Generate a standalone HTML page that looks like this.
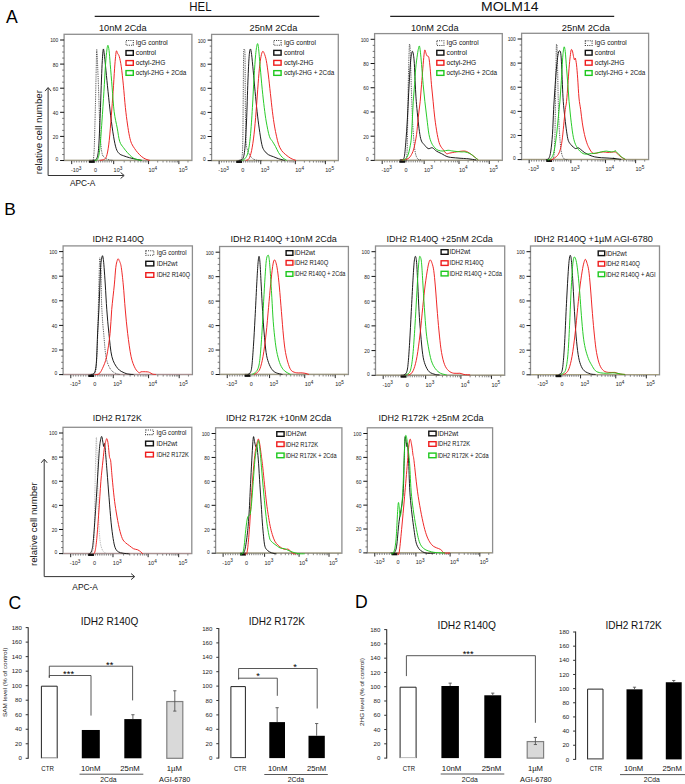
<!DOCTYPE html><html><head><meta charset="utf-8"><style>html,body{margin:0;padding:0;background:#fff;}svg{display:block;font-family:"Liberation Sans", sans-serif;}</style></head><body>
<svg width="685" height="784" viewBox="0 0 685 784">
<rect width="685" height="784" fill="#fff"/>
<text x="5.9" y="22.8" font-size="17.6" fill="#000" text-anchor="start">A</text>
<text x="4.2" y="214.9" font-size="17.3" fill="#000" text-anchor="start">B</text>
<text x="8.6" y="608.7" font-size="17.6" fill="#000" text-anchor="start">C</text>
<text x="354.9" y="608.4" font-size="17.6" fill="#000" text-anchor="start">D</text>
<text x="189.3" y="10.9" font-size="12.5" fill="#111" text-anchor="start" textLength="22.2" lengthAdjust="spacingAndGlyphs">HEL</text>
<line x1="94.7" y1="16.4" x2="319.3" y2="16.4" stroke="#222" stroke-width="1.3"/>
<text x="481" y="10.9" font-size="13" fill="#111" text-anchor="start" textLength="57.6" lengthAdjust="spacingAndGlyphs">MOLM14</text>
<line x1="390.2" y1="16.4" x2="614.2" y2="16.4" stroke="#222" stroke-width="1.3"/>
<text x="99" y="30.5" font-size="9.4" fill="#111" text-anchor="start" textLength="47.6" lengthAdjust="spacingAndGlyphs">10nM 2Cda</text>
<text x="249.5" y="30.5" font-size="9.4" fill="#111" text-anchor="start" textLength="47.8" lengthAdjust="spacingAndGlyphs">25nM 2Cda</text>
<text x="411" y="30.5" font-size="9.4" fill="#111" text-anchor="start" textLength="47.5" lengthAdjust="spacingAndGlyphs">10nM 2Cda</text>
<text x="561.8" y="30.5" font-size="9.4" fill="#111" text-anchor="start" textLength="48.1" lengthAdjust="spacingAndGlyphs">25nM 2Cda</text>
<text x="92.6" y="242" font-size="9.7" fill="#111" text-anchor="start" textLength="51.4" lengthAdjust="spacingAndGlyphs">IDH2 R140Q</text>
<text x="230.5" y="242.3" font-size="9.7" fill="#111" text-anchor="start" textLength="106.3" lengthAdjust="spacingAndGlyphs">IDH2 R140Q +10nM 2Cda</text>
<text x="386.5" y="242.3" font-size="9.7" fill="#111" text-anchor="start" textLength="106.4" lengthAdjust="spacingAndGlyphs">IDH2 R140Q +25nM 2Cda</text>
<text x="533.9" y="242.3" font-size="9.7" fill="#111" text-anchor="start" textLength="119" lengthAdjust="spacingAndGlyphs">IDH2 R140Q +1µM AGI-6780</text>
<text x="92.8" y="421.1" font-size="9.7" fill="#111" text-anchor="start" textLength="48.9" lengthAdjust="spacingAndGlyphs">IDH2 R172K</text>
<text x="226" y="421.1" font-size="9.7" fill="#111" text-anchor="start" textLength="105.4" lengthAdjust="spacingAndGlyphs">IDH2 R172K +10nM 2Cda</text>
<text x="378.5" y="421.1" font-size="9.7" fill="#111" text-anchor="start" textLength="105" lengthAdjust="spacingAndGlyphs">IDH2 R172K +25nM 2Cda</text>
<rect x="64.1" y="34.3" width="127.8" height="126.2" fill="none" stroke="#8e8e8e" stroke-width="1.3"/>
<line x1="60.1" y1="160.5" x2="64.1" y2="160.5" stroke="#111" stroke-width="1"/>
<text x="58.3" y="160.8" font-size="4.9" fill="#222" text-anchor="end">0</text>
<line x1="62.2" y1="154.47" x2="64.1" y2="154.47" stroke="#555" stroke-width="0.8"/>
<line x1="62.2" y1="148.45" x2="64.1" y2="148.45" stroke="#555" stroke-width="0.8"/>
<line x1="62.2" y1="142.43" x2="64.1" y2="142.43" stroke="#555" stroke-width="0.8"/>
<line x1="60.1" y1="136.4" x2="64.1" y2="136.4" stroke="#111" stroke-width="1"/>
<text x="58.3" y="138.8" font-size="4.9" fill="#222" text-anchor="end">20</text>
<line x1="62.2" y1="130.38" x2="64.1" y2="130.38" stroke="#555" stroke-width="0.8"/>
<line x1="62.2" y1="124.35" x2="64.1" y2="124.35" stroke="#555" stroke-width="0.8"/>
<line x1="62.2" y1="118.33" x2="64.1" y2="118.33" stroke="#555" stroke-width="0.8"/>
<line x1="60.1" y1="112.3" x2="64.1" y2="112.3" stroke="#111" stroke-width="1"/>
<text x="58.3" y="114.7" font-size="4.9" fill="#222" text-anchor="end">40</text>
<line x1="62.2" y1="106.28" x2="64.1" y2="106.28" stroke="#555" stroke-width="0.8"/>
<line x1="62.2" y1="100.25" x2="64.1" y2="100.25" stroke="#555" stroke-width="0.8"/>
<line x1="62.2" y1="94.22" x2="64.1" y2="94.22" stroke="#555" stroke-width="0.8"/>
<line x1="60.1" y1="88.2" x2="64.1" y2="88.2" stroke="#111" stroke-width="1"/>
<text x="58.3" y="90.6" font-size="4.9" fill="#222" text-anchor="end">60</text>
<line x1="62.2" y1="82.17" x2="64.1" y2="82.17" stroke="#555" stroke-width="0.8"/>
<line x1="62.2" y1="76.15" x2="64.1" y2="76.15" stroke="#555" stroke-width="0.8"/>
<line x1="62.2" y1="70.12" x2="64.1" y2="70.12" stroke="#555" stroke-width="0.8"/>
<line x1="60.1" y1="64.1" x2="64.1" y2="64.1" stroke="#111" stroke-width="1"/>
<text x="58.3" y="66.5" font-size="4.9" fill="#222" text-anchor="end">80</text>
<line x1="62.2" y1="58.08" x2="64.1" y2="58.08" stroke="#555" stroke-width="0.8"/>
<line x1="62.2" y1="52.05" x2="64.1" y2="52.05" stroke="#555" stroke-width="0.8"/>
<line x1="62.2" y1="46.03" x2="64.1" y2="46.03" stroke="#555" stroke-width="0.8"/>
<line x1="60.1" y1="40" x2="64.1" y2="40" stroke="#111" stroke-width="1"/>
<text x="58.3" y="42.4" font-size="4.9" fill="#222" text-anchor="end">100</text>
<line x1="74.18" y1="160.5" x2="74.18" y2="162.5" stroke="#555" stroke-width="0.7"/>
<line x1="76.66" y1="160.5" x2="76.66" y2="162.5" stroke="#555" stroke-width="0.7"/>
<line x1="79.14" y1="160.5" x2="79.14" y2="162.5" stroke="#555" stroke-width="0.7"/>
<line x1="81.62" y1="160.5" x2="81.62" y2="162.5" stroke="#555" stroke-width="0.7"/>
<line x1="84.09" y1="160.5" x2="84.09" y2="162.5" stroke="#555" stroke-width="0.7"/>
<line x1="86.57" y1="160.5" x2="86.57" y2="162.5" stroke="#555" stroke-width="0.7"/>
<line x1="89.05" y1="160.5" x2="89.05" y2="162.5" stroke="#555" stroke-width="0.7"/>
<line x1="91.53" y1="160.5" x2="91.53" y2="162.5" stroke="#555" stroke-width="0.7"/>
<line x1="96.19" y1="160.5" x2="96.19" y2="162.5" stroke="#555" stroke-width="0.7"/>
<line x1="98.38" y1="160.5" x2="98.38" y2="162.5" stroke="#555" stroke-width="0.7"/>
<line x1="100.57" y1="160.5" x2="100.57" y2="162.5" stroke="#555" stroke-width="0.7"/>
<line x1="102.75" y1="160.5" x2="102.75" y2="162.5" stroke="#555" stroke-width="0.7"/>
<line x1="104.94" y1="160.5" x2="104.94" y2="162.5" stroke="#555" stroke-width="0.7"/>
<line x1="107.13" y1="160.5" x2="107.13" y2="162.5" stroke="#555" stroke-width="0.7"/>
<line x1="109.31" y1="160.5" x2="109.31" y2="162.5" stroke="#555" stroke-width="0.7"/>
<line x1="111.5" y1="160.5" x2="111.5" y2="162.5" stroke="#555" stroke-width="0.7"/>
<line x1="124.19" y1="160.5" x2="124.19" y2="162.5" stroke="#555" stroke-width="0.7"/>
<line x1="130.33" y1="160.5" x2="130.33" y2="162.5" stroke="#555" stroke-width="0.7"/>
<line x1="134.69" y1="160.5" x2="134.69" y2="162.5" stroke="#555" stroke-width="0.7"/>
<line x1="138.07" y1="160.5" x2="138.07" y2="162.5" stroke="#555" stroke-width="0.7"/>
<line x1="140.84" y1="160.5" x2="140.84" y2="162.5" stroke="#555" stroke-width="0.7"/>
<line x1="143.17" y1="160.5" x2="143.17" y2="162.5" stroke="#555" stroke-width="0.7"/>
<line x1="145.19" y1="160.5" x2="145.19" y2="162.5" stroke="#555" stroke-width="0.7"/>
<line x1="146.98" y1="160.5" x2="146.98" y2="162.5" stroke="#555" stroke-width="0.7"/>
<line x1="157.69" y1="160.5" x2="157.69" y2="162.5" stroke="#555" stroke-width="0.7"/>
<line x1="163.03" y1="160.5" x2="163.03" y2="162.5" stroke="#555" stroke-width="0.7"/>
<line x1="166.81" y1="160.5" x2="166.81" y2="162.5" stroke="#555" stroke-width="0.7"/>
<line x1="169.75" y1="160.5" x2="169.75" y2="162.5" stroke="#555" stroke-width="0.7"/>
<line x1="172.14" y1="160.5" x2="172.14" y2="162.5" stroke="#555" stroke-width="0.7"/>
<line x1="174.17" y1="160.5" x2="174.17" y2="162.5" stroke="#555" stroke-width="0.7"/>
<line x1="175.93" y1="160.5" x2="175.93" y2="162.5" stroke="#555" stroke-width="0.7"/>
<line x1="177.48" y1="160.5" x2="177.48" y2="162.5" stroke="#555" stroke-width="0.7"/>
<line x1="187.98" y1="160.5" x2="187.98" y2="162.5" stroke="#555" stroke-width="0.7"/>
<line x1="71.7" y1="160.5" x2="71.7" y2="164.1" stroke="#111" stroke-width="0.9"/>
<line x1="113.69" y1="160.5" x2="113.69" y2="164.1" stroke="#111" stroke-width="0.9"/>
<line x1="148.58" y1="160.5" x2="148.58" y2="164.1" stroke="#111" stroke-width="0.9"/>
<line x1="178.86" y1="160.5" x2="178.86" y2="164.1" stroke="#111" stroke-width="0.9"/>
<text x="70.9" y="171.9" font-size="5.5" fill="#222" text-anchor="start">-10<tspan font-size="85%" dy="-2.4">3</tspan></text>
<text x="93.91" y="171.9" font-size="5.5" fill="#222" text-anchor="start">0</text>
<text x="113.59" y="171.9" font-size="5.5" fill="#222" text-anchor="start">10<tspan font-size="85%" dy="-2.4">3</tspan></text>
<text x="148.48" y="171.9" font-size="5.5" fill="#222" text-anchor="start">10<tspan font-size="85%" dy="-2.4">4</tspan></text>
<text x="178.76" y="171.9" font-size="5.5" fill="#222" text-anchor="start">10<tspan font-size="85%" dy="-2.4">5</tspan></text>
<rect x="89.01" y="159.9" width="5.8" height="3" fill="#111" stroke="none" stroke-width="1"/>
<line x1="64.9" y1="160.2" x2="191.1" y2="160.2" stroke="#a8a078" stroke-width="0.8"/>
<path d="M90.66,160.39 C91.17,159.78 92.97,164.14 93.72,156.71 C94.47,149.29 94.74,130.14 95.15,115.84 C95.56,101.53 95.9,81.94 96.17,70.87 C96.45,59.8 96.48,48.73 96.79,49.42 C97.09,50.1 97.67,66.96 98.01,74.96 C98.35,82.97 98.49,87.91 98.83,97.44 C99.17,106.98 99.55,122.99 100.06,132.19 C100.57,141.38 101.08,148.37 101.9,152.62 C102.71,156.88 103.77,156.54 104.96,157.73 C106.15,158.93 107.69,159.33 109.05,159.78 C110.41,160.22 112.46,160.29 113.14,160.39" fill="none" stroke="#333" stroke-width="0.9" stroke-dasharray="0.9,0.9"/>
<path d="M92.7,160.39 C93.31,160.19 95.42,160.8 96.38,159.16 C97.33,157.53 97.88,155.76 98.42,150.58 C98.97,145.4 99.31,135.25 99.65,128.1 C99.99,120.95 100.16,115.84 100.47,107.66 C100.77,99.49 101.18,86.88 101.49,79.05 C101.79,71.22 102,65.66 102.31,60.66 C102.61,55.65 102.95,49.69 103.33,49.01 C103.7,48.33 104.11,52.92 104.55,56.57 C105,60.21 105.41,65.08 105.98,70.87 C106.56,76.67 107.24,83.82 108.03,91.31 C108.81,98.81 109.76,108.34 110.68,115.84 C111.6,123.33 112.63,130.82 113.55,136.27 C114.47,141.72 115.25,145.64 116.2,148.54 C117.16,151.43 118.08,152.45 119.27,153.65 C120.46,154.84 121.65,155.01 123.36,155.69 C125.06,156.37 127.44,157.15 129.49,157.73 C131.53,158.31 133.57,158.72 135.62,159.16 C137.66,159.61 140.73,160.19 141.75,160.39" fill="none" stroke="#111111" stroke-width="0.95" stroke-linejoin="round"/>
<path d="M99.85,160.39 C100.64,160.19 103.36,160.12 104.55,159.16 C105.75,158.21 106.22,157.8 107.01,154.67 C107.79,151.53 108.54,146.83 109.25,140.36 C109.97,133.89 110.65,124.01 111.3,115.84 C111.94,107.66 112.59,99.15 113.14,91.31 C113.68,83.48 114.16,74.62 114.57,68.83 C114.98,63.04 115.28,59.57 115.59,56.57 C115.9,53.57 116.07,51.36 116.41,50.85 C116.75,50.34 117.16,52.55 117.63,53.5 C118.11,54.46 118.66,54.35 119.27,56.57 C119.88,58.78 120.63,62.02 121.31,66.79 C121.99,71.56 122.67,78.37 123.36,85.18 C124.04,91.99 124.72,101.19 125.4,107.66 C126.08,114.13 126.76,119.24 127.44,124.01 C128.12,128.78 128.81,133.04 129.49,136.27 C130.17,139.51 130.68,141.38 131.53,143.43 C132.38,145.47 133.57,147 134.6,148.54 C135.62,150.07 136.47,151.26 137.66,152.62 C138.85,153.99 140.39,155.62 141.75,156.71 C143.11,157.8 144.47,158.55 145.84,159.16 C147.2,159.78 149.24,160.19 149.92,160.39" fill="none" stroke="#ee1c1c" stroke-width="0.95" stroke-linejoin="round"/>
<path d="M94.74,160.39 C95.25,160.12 96.96,160.73 97.81,158.76 C98.66,156.78 99.17,154.67 99.85,148.54 C100.53,142.41 101.22,131.51 101.9,121.97 C102.58,112.43 103.36,100.51 103.94,91.31 C104.52,82.12 104.93,73.26 105.37,66.79 C105.81,60.32 106.19,56.06 106.6,52.48 C107.01,48.9 107.41,45.67 107.82,45.33 C108.23,44.99 108.64,47.2 109.05,50.44 C109.46,53.67 109.76,58.61 110.28,64.74 C110.79,70.87 111.47,79.39 112.12,87.22 C112.76,95.06 113.31,104.94 114.16,111.75 C115.01,118.56 116.3,123.16 117.22,128.1 C118.14,133.04 118.66,138.15 119.68,141.38 C120.7,144.62 122.06,145.64 123.36,147.51 C124.65,149.39 126.08,151.09 127.44,152.62 C128.81,154.16 130.17,155.62 131.53,156.71 C132.89,157.8 133.92,158.55 135.62,159.16 C137.32,159.78 140.73,160.19 141.75,160.39" fill="none" stroke="#1ec81e" stroke-width="0.95" stroke-linejoin="round"/>
<rect x="126" y="40.55" width="7.3" height="4.7" fill="#fff" stroke="#444" stroke-width="1.1" stroke-dasharray="1.1,1.1"/>
<text x="135.8" y="45.28" font-size="6.6" fill="#111" text-anchor="start" textLength="32" lengthAdjust="spacingAndGlyphs">IgG control</text>
<rect x="126" y="50.6" width="7.3" height="4.7" fill="#fff" stroke="#111111" stroke-width="1.4"/>
<text x="135.8" y="55.33" font-size="6.6" fill="#111" text-anchor="start" textLength="20.3" lengthAdjust="spacingAndGlyphs">control</text>
<rect x="126" y="60.6" width="7.3" height="4.7" fill="#fff" stroke="#ee1c1c" stroke-width="1.4"/>
<text x="135.8" y="65.33" font-size="6.6" fill="#111" text-anchor="start" textLength="29.5" lengthAdjust="spacingAndGlyphs">octyl-2HG</text>
<rect x="126" y="70.6" width="7.3" height="4.7" fill="#fff" stroke="#1ec81e" stroke-width="1.4"/>
<text x="135.8" y="75.33" font-size="6.6" fill="#111" text-anchor="start" textLength="50.6" lengthAdjust="spacingAndGlyphs">octyl-2HG + 2Cda</text>
<rect x="211.6" y="34.4" width="126.7" height="126.2" fill="none" stroke="#8e8e8e" stroke-width="1.3"/>
<line x1="207.6" y1="160.6" x2="211.6" y2="160.6" stroke="#111" stroke-width="1"/>
<text x="205.8" y="160.9" font-size="4.9" fill="#222" text-anchor="end">0</text>
<line x1="209.7" y1="154.57" x2="211.6" y2="154.57" stroke="#555" stroke-width="0.8"/>
<line x1="209.7" y1="148.55" x2="211.6" y2="148.55" stroke="#555" stroke-width="0.8"/>
<line x1="209.7" y1="142.53" x2="211.6" y2="142.53" stroke="#555" stroke-width="0.8"/>
<line x1="207.6" y1="136.5" x2="211.6" y2="136.5" stroke="#111" stroke-width="1"/>
<text x="205.8" y="138.9" font-size="4.9" fill="#222" text-anchor="end">20</text>
<line x1="209.7" y1="130.47" x2="211.6" y2="130.47" stroke="#555" stroke-width="0.8"/>
<line x1="209.7" y1="124.45" x2="211.6" y2="124.45" stroke="#555" stroke-width="0.8"/>
<line x1="209.7" y1="118.42" x2="211.6" y2="118.42" stroke="#555" stroke-width="0.8"/>
<line x1="207.6" y1="112.4" x2="211.6" y2="112.4" stroke="#111" stroke-width="1"/>
<text x="205.8" y="114.8" font-size="4.9" fill="#222" text-anchor="end">40</text>
<line x1="209.7" y1="106.38" x2="211.6" y2="106.38" stroke="#555" stroke-width="0.8"/>
<line x1="209.7" y1="100.35" x2="211.6" y2="100.35" stroke="#555" stroke-width="0.8"/>
<line x1="209.7" y1="94.32" x2="211.6" y2="94.32" stroke="#555" stroke-width="0.8"/>
<line x1="207.6" y1="88.3" x2="211.6" y2="88.3" stroke="#111" stroke-width="1"/>
<text x="205.8" y="90.7" font-size="4.9" fill="#222" text-anchor="end">60</text>
<line x1="209.7" y1="82.27" x2="211.6" y2="82.27" stroke="#555" stroke-width="0.8"/>
<line x1="209.7" y1="76.25" x2="211.6" y2="76.25" stroke="#555" stroke-width="0.8"/>
<line x1="209.7" y1="70.22" x2="211.6" y2="70.22" stroke="#555" stroke-width="0.8"/>
<line x1="207.6" y1="64.2" x2="211.6" y2="64.2" stroke="#111" stroke-width="1"/>
<text x="205.8" y="66.6" font-size="4.9" fill="#222" text-anchor="end">80</text>
<line x1="209.7" y1="58.17" x2="211.6" y2="58.17" stroke="#555" stroke-width="0.8"/>
<line x1="209.7" y1="52.15" x2="211.6" y2="52.15" stroke="#555" stroke-width="0.8"/>
<line x1="209.7" y1="46.12" x2="211.6" y2="46.12" stroke="#555" stroke-width="0.8"/>
<line x1="207.6" y1="40.1" x2="211.6" y2="40.1" stroke="#111" stroke-width="1"/>
<text x="205.8" y="42.5" font-size="4.9" fill="#222" text-anchor="end">100</text>
<line x1="221.6" y1="160.6" x2="221.6" y2="162.6" stroke="#555" stroke-width="0.7"/>
<line x1="224.05" y1="160.6" x2="224.05" y2="162.6" stroke="#555" stroke-width="0.7"/>
<line x1="226.51" y1="160.6" x2="226.51" y2="162.6" stroke="#555" stroke-width="0.7"/>
<line x1="228.96" y1="160.6" x2="228.96" y2="162.6" stroke="#555" stroke-width="0.7"/>
<line x1="231.42" y1="160.6" x2="231.42" y2="162.6" stroke="#555" stroke-width="0.7"/>
<line x1="233.88" y1="160.6" x2="233.88" y2="162.6" stroke="#555" stroke-width="0.7"/>
<line x1="236.33" y1="160.6" x2="236.33" y2="162.6" stroke="#555" stroke-width="0.7"/>
<line x1="238.79" y1="160.6" x2="238.79" y2="162.6" stroke="#555" stroke-width="0.7"/>
<line x1="243.42" y1="160.6" x2="243.42" y2="162.6" stroke="#555" stroke-width="0.7"/>
<line x1="245.58" y1="160.6" x2="245.58" y2="162.6" stroke="#555" stroke-width="0.7"/>
<line x1="247.75" y1="160.6" x2="247.75" y2="162.6" stroke="#555" stroke-width="0.7"/>
<line x1="249.92" y1="160.6" x2="249.92" y2="162.6" stroke="#555" stroke-width="0.7"/>
<line x1="252.09" y1="160.6" x2="252.09" y2="162.6" stroke="#555" stroke-width="0.7"/>
<line x1="254.26" y1="160.6" x2="254.26" y2="162.6" stroke="#555" stroke-width="0.7"/>
<line x1="256.42" y1="160.6" x2="256.42" y2="162.6" stroke="#555" stroke-width="0.7"/>
<line x1="258.59" y1="160.6" x2="258.59" y2="162.6" stroke="#555" stroke-width="0.7"/>
<line x1="271.17" y1="160.6" x2="271.17" y2="162.6" stroke="#555" stroke-width="0.7"/>
<line x1="277.26" y1="160.6" x2="277.26" y2="162.6" stroke="#555" stroke-width="0.7"/>
<line x1="281.58" y1="160.6" x2="281.58" y2="162.6" stroke="#555" stroke-width="0.7"/>
<line x1="284.94" y1="160.6" x2="284.94" y2="162.6" stroke="#555" stroke-width="0.7"/>
<line x1="287.68" y1="160.6" x2="287.68" y2="162.6" stroke="#555" stroke-width="0.7"/>
<line x1="289.99" y1="160.6" x2="289.99" y2="162.6" stroke="#555" stroke-width="0.7"/>
<line x1="292" y1="160.6" x2="292" y2="162.6" stroke="#555" stroke-width="0.7"/>
<line x1="293.77" y1="160.6" x2="293.77" y2="162.6" stroke="#555" stroke-width="0.7"/>
<line x1="304.39" y1="160.6" x2="304.39" y2="162.6" stroke="#555" stroke-width="0.7"/>
<line x1="309.68" y1="160.6" x2="309.68" y2="162.6" stroke="#555" stroke-width="0.7"/>
<line x1="313.43" y1="160.6" x2="313.43" y2="162.6" stroke="#555" stroke-width="0.7"/>
<line x1="316.34" y1="160.6" x2="316.34" y2="162.6" stroke="#555" stroke-width="0.7"/>
<line x1="318.71" y1="160.6" x2="318.71" y2="162.6" stroke="#555" stroke-width="0.7"/>
<line x1="320.73" y1="160.6" x2="320.73" y2="162.6" stroke="#555" stroke-width="0.7"/>
<line x1="322.47" y1="160.6" x2="322.47" y2="162.6" stroke="#555" stroke-width="0.7"/>
<line x1="324" y1="160.6" x2="324" y2="162.6" stroke="#555" stroke-width="0.7"/>
<line x1="334.42" y1="160.6" x2="334.42" y2="162.6" stroke="#555" stroke-width="0.7"/>
<line x1="219.14" y1="160.6" x2="219.14" y2="164.2" stroke="#111" stroke-width="0.9"/>
<line x1="260.76" y1="160.6" x2="260.76" y2="164.2" stroke="#111" stroke-width="0.9"/>
<line x1="295.35" y1="160.6" x2="295.35" y2="164.2" stroke="#111" stroke-width="0.9"/>
<line x1="325.38" y1="160.6" x2="325.38" y2="164.2" stroke="#111" stroke-width="0.9"/>
<text x="218.34" y="172" font-size="5.5" fill="#222" text-anchor="start">-10<tspan font-size="85%" dy="-2.4">3</tspan></text>
<text x="241.15" y="172" font-size="5.5" fill="#222" text-anchor="start">0</text>
<text x="260.66" y="172" font-size="5.5" fill="#222" text-anchor="start">10<tspan font-size="85%" dy="-2.4">3</tspan></text>
<text x="295.25" y="172" font-size="5.5" fill="#222" text-anchor="start">10<tspan font-size="85%" dy="-2.4">4</tspan></text>
<text x="325.28" y="172" font-size="5.5" fill="#222" text-anchor="start">10<tspan font-size="85%" dy="-2.4">5</tspan></text>
<rect x="236.25" y="160" width="5.8" height="3" fill="#111" stroke="none" stroke-width="1"/>
<line x1="212.4" y1="160.3" x2="337.5" y2="160.3" stroke="#a8a078" stroke-width="0.8"/>
<path d="M237.7,160.59 C238.08,160.58 239.29,161.09 240.01,160.49 C240.72,159.89 241.52,160.41 241.99,157 C242.46,153.58 242.61,149.49 242.81,139.99 C243.01,130.49 243.06,114.16 243.2,100 C243.33,85.83 243.44,63.34 243.61,54.99 C243.77,46.65 243.97,49.91 244.2,49.91 C244.43,49.91 244.81,46.65 245,54.99 C245.18,63.34 245.14,85.83 245.3,100 C245.47,114.16 245.63,131.66 246,139.99 C246.37,148.33 246.58,147.06 247.51,150.01 C248.44,152.96 250.08,155.99 251.6,157.69 C253.11,159.39 254.87,159.72 256.6,160.21 C258.34,160.69 261.12,160.53 262.02,160.59" fill="none" stroke="#333" stroke-width="0.9" stroke-dasharray="0.9,0.9"/>
<path d="M238.72,160.39 C239.4,160.12 241.79,160.73 242.81,158.76 C243.83,156.78 244.24,154.67 244.85,148.54 C245.47,142.41 245.98,133.21 246.49,121.97 C247,110.73 247.48,91.99 247.92,81.09 C248.36,70.19 248.74,61.92 249.14,56.57 C249.55,51.22 249.96,49.35 250.37,49.01 C250.78,48.67 251.12,50.88 251.6,54.52 C252.07,58.17 252.65,64.74 253.23,70.87 C253.81,77.01 254.42,84.5 255.07,91.31 C255.72,98.12 256.43,105.62 257.12,111.75 C257.8,117.88 258.38,122.65 259.16,128.1 C259.94,133.55 260.96,140.7 261.82,144.45 C262.67,148.2 263.18,148.88 264.27,150.58 C265.36,152.28 266.82,153.65 268.36,154.67 C269.89,155.69 271.76,156.03 273.47,156.71 C275.17,157.39 276.7,158.14 278.57,158.76 C280.45,159.37 283.68,160.12 284.71,160.39" fill="none" stroke="#111111" stroke-width="0.95" stroke-linejoin="round"/>
<path d="M245.87,160.39 C246.39,160.12 247.99,160.39 248.94,158.76 C249.89,157.12 250.75,154.67 251.6,150.58 C252.45,146.49 253.3,140.7 254.05,134.23 C254.8,127.76 255.48,119.24 256.09,111.75 C256.71,104.26 257.18,96.42 257.73,89.27 C258.27,82.12 258.82,74.28 259.36,68.83 C259.91,63.38 260.45,59.46 261,56.57 C261.54,53.67 262.09,51.97 262.63,51.46 C263.18,50.95 263.66,51.97 264.27,53.5 C264.88,55.04 265.63,57.08 266.31,60.66 C266.99,64.23 267.67,69.51 268.36,74.96 C269.04,80.41 269.72,87.22 270.4,93.36 C271.08,99.49 271.76,106.3 272.44,111.75 C273.12,117.2 273.81,121.97 274.49,126.06 C275.17,130.14 275.85,133.21 276.53,136.27 C277.21,139.34 277.72,142.06 278.57,144.45 C279.43,146.83 280.45,148.88 281.64,150.58 C282.83,152.28 284.19,153.37 285.73,154.67 C287.26,155.96 289.13,157.39 290.84,158.35 C292.54,159.3 295.09,160.05 295.95,160.39" fill="none" stroke="#ee1c1c" stroke-width="0.95" stroke-linejoin="round"/>
<path d="M241.79,160.39 C242.3,160.12 243.83,160.05 244.85,158.76 C245.87,157.46 247,156.37 247.92,152.62 C248.84,148.88 249.62,143.77 250.37,136.27 C251.12,128.78 251.8,117.54 252.41,107.66 C253.03,97.78 253.5,85.86 254.05,77.01 C254.59,68.15 255.14,60.04 255.68,54.52 C256.23,49.01 256.84,44.92 257.32,43.9 C257.8,42.88 258.07,44.58 258.55,48.39 C259.02,52.21 259.57,59.97 260.18,66.79 C260.79,73.6 261.54,82.46 262.22,89.27 C262.91,96.08 263.59,102.21 264.27,107.66 C264.95,113.11 265.46,117.2 266.31,121.97 C267.16,126.74 268.36,133.04 269.38,136.27 C270.4,139.51 271.42,139.68 272.44,141.38 C273.47,143.09 274.49,144.62 275.51,146.49 C276.53,148.37 277.38,150.75 278.57,152.62 C279.77,154.5 281.3,156.44 282.66,157.73 C284.02,159.03 286.07,159.95 286.75,160.39" fill="none" stroke="#1ec81e" stroke-width="0.95" stroke-linejoin="round"/>
<rect x="273.8" y="40.55" width="7.3" height="4.7" fill="#fff" stroke="#444" stroke-width="1.1" stroke-dasharray="1.1,1.1"/>
<text x="283.9" y="45.28" font-size="6.6" fill="#111" text-anchor="start" textLength="32" lengthAdjust="spacingAndGlyphs">IgG control</text>
<rect x="273.8" y="50.4" width="7.3" height="4.7" fill="#fff" stroke="#111111" stroke-width="1.4"/>
<text x="283.9" y="55.13" font-size="6.6" fill="#111" text-anchor="start" textLength="20.3" lengthAdjust="spacingAndGlyphs">control</text>
<rect x="273.8" y="60.45" width="7.3" height="4.7" fill="#fff" stroke="#ee1c1c" stroke-width="1.4"/>
<text x="283.9" y="65.18" font-size="6.6" fill="#111" text-anchor="start" textLength="29.5" lengthAdjust="spacingAndGlyphs">octyl-2HG</text>
<rect x="273.8" y="70.65" width="7.3" height="4.7" fill="#fff" stroke="#1ec81e" stroke-width="1.4"/>
<text x="283.9" y="75.38" font-size="6.6" fill="#111" text-anchor="start" textLength="50.3" lengthAdjust="spacingAndGlyphs">octyl-2HG + 2Cda</text>
<rect x="374.6" y="33.6" width="127.7" height="126.8" fill="none" stroke="#8e8e8e" stroke-width="1.3"/>
<line x1="370.6" y1="160.4" x2="374.6" y2="160.4" stroke="#111" stroke-width="1"/>
<text x="368.8" y="160.7" font-size="4.9" fill="#222" text-anchor="end">0</text>
<line x1="372.7" y1="154.34" x2="374.6" y2="154.34" stroke="#555" stroke-width="0.8"/>
<line x1="372.7" y1="148.29" x2="374.6" y2="148.29" stroke="#555" stroke-width="0.8"/>
<line x1="372.7" y1="142.24" x2="374.6" y2="142.24" stroke="#555" stroke-width="0.8"/>
<line x1="370.6" y1="136.18" x2="374.6" y2="136.18" stroke="#111" stroke-width="1"/>
<text x="368.8" y="138.58" font-size="4.9" fill="#222" text-anchor="end">20</text>
<line x1="372.7" y1="130.12" x2="374.6" y2="130.12" stroke="#555" stroke-width="0.8"/>
<line x1="372.7" y1="124.07" x2="374.6" y2="124.07" stroke="#555" stroke-width="0.8"/>
<line x1="372.7" y1="118.02" x2="374.6" y2="118.02" stroke="#555" stroke-width="0.8"/>
<line x1="370.6" y1="111.96" x2="374.6" y2="111.96" stroke="#111" stroke-width="1"/>
<text x="368.8" y="114.36" font-size="4.9" fill="#222" text-anchor="end">40</text>
<line x1="372.7" y1="105.91" x2="374.6" y2="105.91" stroke="#555" stroke-width="0.8"/>
<line x1="372.7" y1="99.85" x2="374.6" y2="99.85" stroke="#555" stroke-width="0.8"/>
<line x1="372.7" y1="93.8" x2="374.6" y2="93.8" stroke="#555" stroke-width="0.8"/>
<line x1="370.6" y1="87.74" x2="374.6" y2="87.74" stroke="#111" stroke-width="1"/>
<text x="368.8" y="90.14" font-size="4.9" fill="#222" text-anchor="end">60</text>
<line x1="372.7" y1="81.69" x2="374.6" y2="81.69" stroke="#555" stroke-width="0.8"/>
<line x1="372.7" y1="75.63" x2="374.6" y2="75.63" stroke="#555" stroke-width="0.8"/>
<line x1="372.7" y1="69.58" x2="374.6" y2="69.58" stroke="#555" stroke-width="0.8"/>
<line x1="370.6" y1="63.52" x2="374.6" y2="63.52" stroke="#111" stroke-width="1"/>
<text x="368.8" y="65.92" font-size="4.9" fill="#222" text-anchor="end">80</text>
<line x1="372.7" y1="57.47" x2="374.6" y2="57.47" stroke="#555" stroke-width="0.8"/>
<line x1="372.7" y1="51.41" x2="374.6" y2="51.41" stroke="#555" stroke-width="0.8"/>
<line x1="372.7" y1="45.36" x2="374.6" y2="45.36" stroke="#555" stroke-width="0.8"/>
<line x1="370.6" y1="39.3" x2="374.6" y2="39.3" stroke="#111" stroke-width="1"/>
<text x="368.8" y="41.7" font-size="4.9" fill="#222" text-anchor="end">100</text>
<line x1="384.67" y1="160.4" x2="384.67" y2="162.4" stroke="#555" stroke-width="0.7"/>
<line x1="387.15" y1="160.4" x2="387.15" y2="162.4" stroke="#555" stroke-width="0.7"/>
<line x1="389.63" y1="160.4" x2="389.63" y2="162.4" stroke="#555" stroke-width="0.7"/>
<line x1="392.1" y1="160.4" x2="392.1" y2="162.4" stroke="#555" stroke-width="0.7"/>
<line x1="394.58" y1="160.4" x2="394.58" y2="162.4" stroke="#555" stroke-width="0.7"/>
<line x1="397.05" y1="160.4" x2="397.05" y2="162.4" stroke="#555" stroke-width="0.7"/>
<line x1="399.53" y1="160.4" x2="399.53" y2="162.4" stroke="#555" stroke-width="0.7"/>
<line x1="402.01" y1="160.4" x2="402.01" y2="162.4" stroke="#555" stroke-width="0.7"/>
<line x1="406.67" y1="160.4" x2="406.67" y2="162.4" stroke="#555" stroke-width="0.7"/>
<line x1="408.85" y1="160.4" x2="408.85" y2="162.4" stroke="#555" stroke-width="0.7"/>
<line x1="411.04" y1="160.4" x2="411.04" y2="162.4" stroke="#555" stroke-width="0.7"/>
<line x1="413.22" y1="160.4" x2="413.22" y2="162.4" stroke="#555" stroke-width="0.7"/>
<line x1="415.41" y1="160.4" x2="415.41" y2="162.4" stroke="#555" stroke-width="0.7"/>
<line x1="417.59" y1="160.4" x2="417.59" y2="162.4" stroke="#555" stroke-width="0.7"/>
<line x1="419.78" y1="160.4" x2="419.78" y2="162.4" stroke="#555" stroke-width="0.7"/>
<line x1="421.96" y1="160.4" x2="421.96" y2="162.4" stroke="#555" stroke-width="0.7"/>
<line x1="434.64" y1="160.4" x2="434.64" y2="162.4" stroke="#555" stroke-width="0.7"/>
<line x1="440.78" y1="160.4" x2="440.78" y2="162.4" stroke="#555" stroke-width="0.7"/>
<line x1="445.14" y1="160.4" x2="445.14" y2="162.4" stroke="#555" stroke-width="0.7"/>
<line x1="448.52" y1="160.4" x2="448.52" y2="162.4" stroke="#555" stroke-width="0.7"/>
<line x1="451.28" y1="160.4" x2="451.28" y2="162.4" stroke="#555" stroke-width="0.7"/>
<line x1="453.61" y1="160.4" x2="453.61" y2="162.4" stroke="#555" stroke-width="0.7"/>
<line x1="455.63" y1="160.4" x2="455.63" y2="162.4" stroke="#555" stroke-width="0.7"/>
<line x1="457.41" y1="160.4" x2="457.41" y2="162.4" stroke="#555" stroke-width="0.7"/>
<line x1="468.12" y1="160.4" x2="468.12" y2="162.4" stroke="#555" stroke-width="0.7"/>
<line x1="473.45" y1="160.4" x2="473.45" y2="162.4" stroke="#555" stroke-width="0.7"/>
<line x1="477.23" y1="160.4" x2="477.23" y2="162.4" stroke="#555" stroke-width="0.7"/>
<line x1="480.16" y1="160.4" x2="480.16" y2="162.4" stroke="#555" stroke-width="0.7"/>
<line x1="482.56" y1="160.4" x2="482.56" y2="162.4" stroke="#555" stroke-width="0.7"/>
<line x1="484.59" y1="160.4" x2="484.59" y2="162.4" stroke="#555" stroke-width="0.7"/>
<line x1="486.34" y1="160.4" x2="486.34" y2="162.4" stroke="#555" stroke-width="0.7"/>
<line x1="487.89" y1="160.4" x2="487.89" y2="162.4" stroke="#555" stroke-width="0.7"/>
<line x1="498.39" y1="160.4" x2="498.39" y2="162.4" stroke="#555" stroke-width="0.7"/>
<line x1="382.2" y1="160.4" x2="382.2" y2="164" stroke="#111" stroke-width="0.9"/>
<line x1="424.15" y1="160.4" x2="424.15" y2="164" stroke="#111" stroke-width="0.9"/>
<line x1="459.01" y1="160.4" x2="459.01" y2="164" stroke="#111" stroke-width="0.9"/>
<line x1="489.27" y1="160.4" x2="489.27" y2="164" stroke="#111" stroke-width="0.9"/>
<text x="381.4" y="171.8" font-size="5.5" fill="#222" text-anchor="start">-10<tspan font-size="85%" dy="-2.4">3</tspan></text>
<text x="404.38" y="171.8" font-size="5.5" fill="#222" text-anchor="start">0</text>
<text x="424.05" y="171.8" font-size="5.5" fill="#222" text-anchor="start">10<tspan font-size="85%" dy="-2.4">3</tspan></text>
<text x="458.91" y="171.8" font-size="5.5" fill="#222" text-anchor="start">10<tspan font-size="85%" dy="-2.4">4</tspan></text>
<text x="489.17" y="171.8" font-size="5.5" fill="#222" text-anchor="start">10<tspan font-size="85%" dy="-2.4">5</tspan></text>
<rect x="399.48" y="159.8" width="5.8" height="3" fill="#111" stroke="none" stroke-width="1"/>
<line x1="375.4" y1="160.1" x2="501.5" y2="160.1" stroke="#a8a078" stroke-width="0.8"/>
<path d="M404.11,159.72 C404.53,159.66 406.05,163.57 406.6,159.37 C407.16,155.17 407.17,146.93 407.44,134.5 C407.72,122.06 407.98,98.57 408.26,84.75 C408.53,70.93 408.88,58.35 409.1,51.58 C409.32,44.81 409.4,44.12 409.59,44.12 C409.78,44.12 409.97,44.81 410.24,51.58 C410.52,58.35 410.88,73.7 411.24,84.75 C411.6,95.81 411.94,108.25 412.41,117.92 C412.88,127.6 413.51,136.71 414.06,142.79 C414.61,148.87 415.03,151.64 415.72,154.4 C416.41,157.16 417.24,158.48 418.21,159.37 C419.18,160.25 420.97,159.66 421.52,159.72" fill="none" stroke="#333" stroke-width="0.9" stroke-dasharray="0.9,0.9"/>
<path d="M399.96,159.72 C400.24,159.72 400.95,160.05 401.64,159.72 C402.33,159.38 403.42,160.53 404.11,157.71 C404.8,154.89 405.21,149.43 405.77,142.79 C406.32,136.16 406.89,127.6 407.44,117.92 C408,108.25 408.54,94.43 409.1,84.75 C409.65,75.08 410.2,65.46 410.75,59.88 C411.3,54.3 411.86,51.25 412.41,51.25 C412.96,51.25 413.65,55.68 414.06,59.88 C414.48,64.08 414.62,70.93 414.9,76.45 C415.18,81.98 415.44,88.35 415.72,93.05 C415.99,97.75 416.14,99.96 416.56,104.66 C416.97,109.35 417.66,116.26 418.21,121.23 C418.76,126.21 419.32,131.18 419.87,134.5 C420.42,137.81 420.83,139.48 421.52,141.14 C422.21,142.8 422.91,143.21 424.02,144.45 C425.12,145.69 426.78,148.04 428.16,148.6 C429.55,149.15 430.93,147.36 432.31,147.78 C433.69,148.2 434.92,150.12 436.44,151.09 C437.96,152.06 439.49,152.62 441.43,153.58 C443.36,154.55 445.29,156.15 448.05,156.9 C450.81,157.64 455.18,157.78 458,158.06 C460.82,158.34 463.29,158.44 464.97,158.55 C466.66,158.67 466.22,158.52 468.1,158.76 C469.98,158.99 474.91,159.78 476.27,159.98" fill="none" stroke="#111111" stroke-width="0.95" stroke-linejoin="round"/>
<path d="M401.64,159.72 C401.91,159.72 402.19,159.91 403.29,159.72 C404.4,159.52 406.88,159.44 408.26,158.55 C409.64,157.67 410.6,156.2 411.57,154.4 C412.54,152.61 413.23,151.1 414.06,147.78 C414.89,144.46 415.86,139.47 416.56,134.5 C417.25,129.52 417.61,123.45 418.21,117.92 C418.82,112.4 419.64,106.88 420.19,101.35 C420.75,95.82 421.08,90.28 421.52,84.75 C421.97,79.22 422.44,73.15 422.85,68.18 C423.27,63.2 423.68,57.95 424.02,54.91 C424.35,51.87 424.52,50.2 424.85,49.93 C425.18,49.65 425.67,52.29 426,53.26 C426.33,54.23 426.48,55.23 426.84,55.73 C427.2,56.23 427.81,55.83 428.16,56.24 C428.52,56.66 428.65,56.23 428.98,58.22 C429.31,60.21 429.73,63.76 430.15,68.18 C430.56,72.6 430.98,79.22 431.48,84.75 C431.97,90.28 432.58,95.82 433.13,101.35 C433.68,106.88 434.09,112.4 434.79,117.92 C435.48,123.45 436.45,130.07 437.28,134.5 C438.11,138.92 438.81,141.96 439.77,144.45 C440.74,146.94 441.98,147.91 443.08,149.44 C444.19,150.96 445.29,152.98 446.39,153.58 C447.5,154.19 448.07,153.35 449.73,153.07 C451.38,152.79 453.81,152.24 456.35,151.91 C458.89,151.58 462.67,150.8 464.97,151.09 C467.27,151.38 468.6,152.71 470.14,153.65 C471.69,154.58 472.87,155.66 474.23,156.71 C475.59,157.77 477.64,159.44 478.32,159.98" fill="none" stroke="#ee1c1c" stroke-width="0.95" stroke-linejoin="round"/>
<path d="M402.45,159.72 C402.87,159.66 403.98,160.25 404.95,159.37 C405.92,158.48 407.29,157.16 408.26,154.4 C409.23,151.64 410.2,146.11 410.75,142.79 C411.3,139.48 411.29,138.64 411.57,134.5 C411.85,130.35 412.13,123.45 412.41,117.92 C412.69,112.4 412.89,106.88 413.25,101.35 C413.6,95.82 414.14,90.28 414.55,84.75 C414.97,79.22 415.25,73.15 415.72,68.18 C416.19,63.2 416.9,58.23 417.37,54.91 C417.84,51.6 418.18,49.71 418.54,48.27 C418.9,46.83 419.18,45.18 419.54,46.29 C419.9,47.4 420.32,51.27 420.71,54.91 C421.09,58.56 421.44,63.2 421.85,68.18 C422.26,73.15 422.68,79.22 423.18,84.75 C423.68,90.28 424.24,95.82 424.85,101.35 C425.46,106.88 426.15,112.4 426.84,117.92 C427.52,123.45 428.21,130.35 428.98,134.5 C429.76,138.64 430.51,140.58 431.48,142.79 C432.44,145.01 433.68,146.54 434.79,147.78 C435.89,149.02 436.73,149.7 438.12,150.25 C439.5,150.81 441.43,151.09 443.08,151.09 C444.74,151.09 446.39,150.25 448.05,150.25 C449.71,150.25 450.82,150.82 453.04,151.09 C455.25,151.37 459.35,151.77 461.33,151.91 C463.32,152.05 463.5,151.62 464.97,151.91 C466.44,152.2 468.6,152.85 470.14,153.65 C471.69,154.45 472.87,155.66 474.23,156.71 C475.59,157.77 477.64,159.44 478.32,159.98" fill="none" stroke="#1ec81e" stroke-width="0.95" stroke-linejoin="round"/>
<rect x="436.8" y="40.75" width="7.1" height="4.7" fill="#fff" stroke="#444" stroke-width="1.1" stroke-dasharray="1.1,1.1"/>
<text x="446.6" y="45.48" font-size="6.6" fill="#111" text-anchor="start" textLength="32" lengthAdjust="spacingAndGlyphs">IgG control</text>
<rect x="436.8" y="50.4" width="7.1" height="4.7" fill="#fff" stroke="#111111" stroke-width="1.4"/>
<text x="446.6" y="55.13" font-size="6.6" fill="#111" text-anchor="start" textLength="20.3" lengthAdjust="spacingAndGlyphs">control</text>
<rect x="436.8" y="60.45" width="7.1" height="4.7" fill="#fff" stroke="#ee1c1c" stroke-width="1.4"/>
<text x="446.6" y="65.18" font-size="6.6" fill="#111" text-anchor="start" textLength="29.5" lengthAdjust="spacingAndGlyphs">octyl-2HG</text>
<rect x="436.8" y="70.65" width="7.1" height="4.7" fill="#fff" stroke="#1ec81e" stroke-width="1.4"/>
<text x="446.6" y="75.38" font-size="6.6" fill="#111" text-anchor="start" textLength="50.5" lengthAdjust="spacingAndGlyphs">octyl-2HG + 2Cda</text>
<rect x="521.6" y="33.3" width="127" height="126.3" fill="none" stroke="#8e8e8e" stroke-width="1.3"/>
<line x1="517.6" y1="159.6" x2="521.6" y2="159.6" stroke="#111" stroke-width="1"/>
<text x="515.8" y="159.9" font-size="4.9" fill="#222" text-anchor="end">0</text>
<line x1="519.7" y1="153.57" x2="521.6" y2="153.57" stroke="#555" stroke-width="0.8"/>
<line x1="519.7" y1="147.54" x2="521.6" y2="147.54" stroke="#555" stroke-width="0.8"/>
<line x1="519.7" y1="141.51" x2="521.6" y2="141.51" stroke="#555" stroke-width="0.8"/>
<line x1="517.6" y1="135.48" x2="521.6" y2="135.48" stroke="#111" stroke-width="1"/>
<text x="515.8" y="137.88" font-size="4.9" fill="#222" text-anchor="end">20</text>
<line x1="519.7" y1="129.45" x2="521.6" y2="129.45" stroke="#555" stroke-width="0.8"/>
<line x1="519.7" y1="123.42" x2="521.6" y2="123.42" stroke="#555" stroke-width="0.8"/>
<line x1="519.7" y1="117.39" x2="521.6" y2="117.39" stroke="#555" stroke-width="0.8"/>
<line x1="517.6" y1="111.36" x2="521.6" y2="111.36" stroke="#111" stroke-width="1"/>
<text x="515.8" y="113.76" font-size="4.9" fill="#222" text-anchor="end">40</text>
<line x1="519.7" y1="105.33" x2="521.6" y2="105.33" stroke="#555" stroke-width="0.8"/>
<line x1="519.7" y1="99.3" x2="521.6" y2="99.3" stroke="#555" stroke-width="0.8"/>
<line x1="519.7" y1="93.27" x2="521.6" y2="93.27" stroke="#555" stroke-width="0.8"/>
<line x1="517.6" y1="87.24" x2="521.6" y2="87.24" stroke="#111" stroke-width="1"/>
<text x="515.8" y="89.64" font-size="4.9" fill="#222" text-anchor="end">60</text>
<line x1="519.7" y1="81.21" x2="521.6" y2="81.21" stroke="#555" stroke-width="0.8"/>
<line x1="519.7" y1="75.18" x2="521.6" y2="75.18" stroke="#555" stroke-width="0.8"/>
<line x1="519.7" y1="69.15" x2="521.6" y2="69.15" stroke="#555" stroke-width="0.8"/>
<line x1="517.6" y1="63.12" x2="521.6" y2="63.12" stroke="#111" stroke-width="1"/>
<text x="515.8" y="65.52" font-size="4.9" fill="#222" text-anchor="end">80</text>
<line x1="519.7" y1="57.09" x2="521.6" y2="57.09" stroke="#555" stroke-width="0.8"/>
<line x1="519.7" y1="51.06" x2="521.6" y2="51.06" stroke="#555" stroke-width="0.8"/>
<line x1="519.7" y1="45.03" x2="521.6" y2="45.03" stroke="#555" stroke-width="0.8"/>
<line x1="517.6" y1="39" x2="521.6" y2="39" stroke="#111" stroke-width="1"/>
<text x="515.8" y="41.4" font-size="4.9" fill="#222" text-anchor="end">100</text>
<line x1="531.62" y1="159.6" x2="531.62" y2="161.6" stroke="#555" stroke-width="0.7"/>
<line x1="534.08" y1="159.6" x2="534.08" y2="161.6" stroke="#555" stroke-width="0.7"/>
<line x1="536.54" y1="159.6" x2="536.54" y2="161.6" stroke="#555" stroke-width="0.7"/>
<line x1="539.01" y1="159.6" x2="539.01" y2="161.6" stroke="#555" stroke-width="0.7"/>
<line x1="541.47" y1="159.6" x2="541.47" y2="161.6" stroke="#555" stroke-width="0.7"/>
<line x1="543.93" y1="159.6" x2="543.93" y2="161.6" stroke="#555" stroke-width="0.7"/>
<line x1="546.39" y1="159.6" x2="546.39" y2="161.6" stroke="#555" stroke-width="0.7"/>
<line x1="548.86" y1="159.6" x2="548.86" y2="161.6" stroke="#555" stroke-width="0.7"/>
<line x1="553.49" y1="159.6" x2="553.49" y2="161.6" stroke="#555" stroke-width="0.7"/>
<line x1="555.66" y1="159.6" x2="555.66" y2="161.6" stroke="#555" stroke-width="0.7"/>
<line x1="557.84" y1="159.6" x2="557.84" y2="161.6" stroke="#555" stroke-width="0.7"/>
<line x1="560.01" y1="159.6" x2="560.01" y2="161.6" stroke="#555" stroke-width="0.7"/>
<line x1="562.18" y1="159.6" x2="562.18" y2="161.6" stroke="#555" stroke-width="0.7"/>
<line x1="564.36" y1="159.6" x2="564.36" y2="161.6" stroke="#555" stroke-width="0.7"/>
<line x1="566.53" y1="159.6" x2="566.53" y2="161.6" stroke="#555" stroke-width="0.7"/>
<line x1="568.7" y1="159.6" x2="568.7" y2="161.6" stroke="#555" stroke-width="0.7"/>
<line x1="581.31" y1="159.6" x2="581.31" y2="161.6" stroke="#555" stroke-width="0.7"/>
<line x1="587.42" y1="159.6" x2="587.42" y2="161.6" stroke="#555" stroke-width="0.7"/>
<line x1="591.75" y1="159.6" x2="591.75" y2="161.6" stroke="#555" stroke-width="0.7"/>
<line x1="595.11" y1="159.6" x2="595.11" y2="161.6" stroke="#555" stroke-width="0.7"/>
<line x1="597.86" y1="159.6" x2="597.86" y2="161.6" stroke="#555" stroke-width="0.7"/>
<line x1="600.18" y1="159.6" x2="600.18" y2="161.6" stroke="#555" stroke-width="0.7"/>
<line x1="602.19" y1="159.6" x2="602.19" y2="161.6" stroke="#555" stroke-width="0.7"/>
<line x1="603.96" y1="159.6" x2="603.96" y2="161.6" stroke="#555" stroke-width="0.7"/>
<line x1="614.61" y1="159.6" x2="614.61" y2="161.6" stroke="#555" stroke-width="0.7"/>
<line x1="619.91" y1="159.6" x2="619.91" y2="161.6" stroke="#555" stroke-width="0.7"/>
<line x1="623.67" y1="159.6" x2="623.67" y2="161.6" stroke="#555" stroke-width="0.7"/>
<line x1="626.59" y1="159.6" x2="626.59" y2="161.6" stroke="#555" stroke-width="0.7"/>
<line x1="628.97" y1="159.6" x2="628.97" y2="161.6" stroke="#555" stroke-width="0.7"/>
<line x1="630.98" y1="159.6" x2="630.98" y2="161.6" stroke="#555" stroke-width="0.7"/>
<line x1="632.73" y1="159.6" x2="632.73" y2="161.6" stroke="#555" stroke-width="0.7"/>
<line x1="634.27" y1="159.6" x2="634.27" y2="161.6" stroke="#555" stroke-width="0.7"/>
<line x1="644.71" y1="159.6" x2="644.71" y2="161.6" stroke="#555" stroke-width="0.7"/>
<line x1="529.16" y1="159.6" x2="529.16" y2="163.2" stroke="#111" stroke-width="0.9"/>
<line x1="570.88" y1="159.6" x2="570.88" y2="163.2" stroke="#111" stroke-width="0.9"/>
<line x1="605.55" y1="159.6" x2="605.55" y2="163.2" stroke="#111" stroke-width="0.9"/>
<line x1="635.65" y1="159.6" x2="635.65" y2="163.2" stroke="#111" stroke-width="0.9"/>
<text x="528.36" y="171" font-size="5.5" fill="#222" text-anchor="start">-10<tspan font-size="85%" dy="-2.4">3</tspan></text>
<text x="551.22" y="171" font-size="5.5" fill="#222" text-anchor="start">0</text>
<text x="570.78" y="171" font-size="5.5" fill="#222" text-anchor="start">10<tspan font-size="85%" dy="-2.4">3</tspan></text>
<text x="605.45" y="171" font-size="5.5" fill="#222" text-anchor="start">10<tspan font-size="85%" dy="-2.4">4</tspan></text>
<text x="635.55" y="171" font-size="5.5" fill="#222" text-anchor="start">10<tspan font-size="85%" dy="-2.4">5</tspan></text>
<rect x="546.32" y="159" width="5.8" height="3" fill="#111" stroke="none" stroke-width="1"/>
<line x1="522.4" y1="159.3" x2="647.8" y2="159.3" stroke="#a8a078" stroke-width="0.8"/>
<path d="M552.46,159.72 C552.74,158.83 553.7,158.61 554.12,154.4 C554.53,150.2 554.73,143.34 554.96,134.5 C555.18,125.65 555.28,112.4 555.45,101.35 C555.61,90.29 555.82,77.02 555.96,68.18 C556.1,59.33 556.17,52.28 556.28,48.27 C556.39,44.26 556.47,44.12 556.61,44.12 C556.75,44.12 556.93,44.26 557.1,48.27 C557.27,52.28 557.42,59.33 557.61,68.18 C557.81,77.02 558.02,91.67 558.27,101.35 C558.51,111.02 558.69,118.48 559.1,126.22 C559.52,133.96 560.21,142.81 560.76,147.78 C561.31,152.75 561.72,154.13 562.41,156.06 C563.11,157.99 563.94,158.76 564.91,159.37 C565.88,159.98 567.67,159.66 568.22,159.72" fill="none" stroke="#333" stroke-width="0.9" stroke-dasharray="0.9,0.9"/>
<path d="M545.84,159.72 C546.12,159.66 546.94,159.7 547.5,159.37 C548.05,159.03 548.6,159.09 549.15,157.71 C549.7,156.33 550.25,154.96 550.81,151.09 C551.36,147.22 551.99,141.41 552.46,134.5 C552.93,127.58 553.27,116.53 553.63,109.62 C553.99,102.72 554.27,98.58 554.63,93.05 C554.99,87.52 555.39,81.43 555.77,76.45 C556.16,71.48 556.52,67.06 556.94,63.19 C557.35,59.32 557.82,55.33 558.27,53.26 C558.71,51.19 559.18,50.76 559.59,50.76 C560.01,50.76 560.43,50.91 560.76,53.26 C561.09,55.61 561.3,59.62 561.58,64.87 C561.85,70.12 562.14,78.67 562.41,84.75 C562.69,90.83 562.84,95.82 563.25,101.35 C563.67,106.88 564.36,112.95 564.91,117.92 C565.46,122.89 566.01,127.46 566.56,131.19 C567.12,134.92 567.53,138.09 568.22,140.3 C568.91,142.51 569.88,143.34 570.71,144.45 C571.54,145.56 572.36,146.25 573.19,146.94 C574.01,147.63 574.85,148.46 575.68,148.6 C576.51,148.74 577.34,147.64 578.17,147.78 C579,147.92 579.56,148.61 580.67,149.44 C581.77,150.26 583.27,151.78 584.79,152.75 C586.31,153.71 588.12,154.55 589.78,155.24 C591.44,155.93 592.81,156.48 594.75,156.9 C596.68,157.31 599.18,157.52 601.39,157.71 C603.6,157.91 605.75,157.92 608.01,158.06 C610.28,158.2 614.13,158.5 614.98,158.55 C615.83,158.6 612.05,158.21 613.1,158.35 C614.15,158.48 619.91,159.2 621.27,159.37" fill="none" stroke="#111111" stroke-width="0.95" stroke-linejoin="round"/>
<path d="M549.97,159.72 C550.25,159.72 550.81,160.05 551.64,159.72 C552.48,159.38 553.85,158.6 554.96,157.71 C556.06,156.83 557.3,156.06 558.27,154.4 C559.23,152.75 560.07,150.54 560.76,147.78 C561.45,145.02 561.86,142.25 562.41,137.83 C562.97,133.4 563.6,125.93 564.07,121.23 C564.54,116.53 564.82,112.94 565.24,109.62 C565.65,106.31 566.12,105.49 566.56,101.35 C567.01,97.2 567.48,90.28 567.89,84.75 C568.31,79.22 568.67,72.87 569.06,68.18 C569.44,63.48 569.84,59.61 570.2,56.57 C570.56,53.53 570.84,50.89 571.2,49.93 C571.56,48.96 571.98,49.66 572.37,50.76 C572.76,51.87 573.17,55.05 573.53,56.57 C573.89,58.09 574.21,59.6 574.51,59.88 C574.82,60.16 575.02,57.39 575.35,58.22 C575.69,59.06 576.13,61.55 576.52,64.87 C576.9,68.18 577.25,72.61 577.66,78.13 C578.07,83.65 578.49,92.77 578.99,98.02 C579.49,103.26 580.11,105.48 580.67,109.62 C581.22,113.77 581.69,118.74 582.32,122.89 C582.95,127.03 583.72,131.18 584.47,134.5 C585.21,137.81 586.05,140.58 586.8,142.79 C587.54,145.01 588.17,146.26 588.94,147.78 C589.72,149.3 590.6,150.94 591.44,151.91 C592.27,152.88 592.83,153.45 593.93,153.58 C595.03,153.72 596.54,153.03 598.06,152.75 C599.58,152.47 601.39,151.96 603.04,151.91 C604.7,151.85 606.02,152.42 608.01,152.42 C610,152.42 613.62,151.87 614.98,151.91 C616.34,151.94 615.12,151.76 616.16,152.62 C617.21,153.49 619.74,156 621.27,157.12 C622.81,158.24 624.68,158.99 625.36,159.37" fill="none" stroke="#ee1c1c" stroke-width="0.95" stroke-linejoin="round"/>
<path d="M547.5,159.72 C547.77,159.72 548.46,160.05 549.15,159.72 C549.84,159.38 550.82,159.15 551.64,157.71 C552.47,156.28 553.29,154.96 554.12,151.09 C554.94,147.22 555.92,140.02 556.61,134.5 C557.3,128.97 557.71,123.45 558.27,117.92 C558.82,112.4 559.45,106.88 559.92,101.35 C560.39,95.82 560.73,90.28 561.09,84.75 C561.45,79.22 561.78,73.15 562.09,68.18 C562.39,63.2 562.57,58.45 562.91,54.91 C563.24,51.37 563.68,47.5 564.07,46.94 C564.46,46.39 564.82,48.04 565.24,51.58 C565.65,55.12 566.12,62.65 566.56,68.18 C567.01,73.71 567.48,79.22 567.89,84.75 C568.31,90.28 568.59,95.82 569.06,101.35 C569.53,106.88 570.08,112.4 570.71,117.92 C571.35,123.45 572.17,130.35 572.86,134.5 C573.55,138.64 574.12,140.58 574.86,142.79 C575.61,145.01 576.51,146.4 577.33,147.78 C578.16,149.16 578.86,150.12 579.83,151.09 C580.79,152.06 582.03,153.09 583.14,153.58 C584.24,154.08 585.07,154.08 586.45,154.08 C587.83,154.08 589.78,153.75 591.44,153.58 C593.09,153.42 594.74,153.35 596.4,153.07 C598.06,152.79 599.73,152.24 601.39,151.91 C603.05,151.58 604.7,151.09 606.35,151.09 C608.01,151.09 609.9,151.91 611.34,151.91 C612.78,151.91 614.35,151.31 614.98,151.09 C615.61,150.87 614.78,150.32 615.14,150.58 C615.51,150.84 616.16,151.6 617.19,152.62 C618.21,153.65 619.91,155.59 621.27,156.71 C622.64,157.84 624.68,158.93 625.36,159.37" fill="none" stroke="#1ec81e" stroke-width="0.95" stroke-linejoin="round"/>
<rect x="585.3" y="40.75" width="6.8" height="4.7" fill="#fff" stroke="#444" stroke-width="1.1" stroke-dasharray="1.1,1.1"/>
<text x="594.8" y="45.48" font-size="6.6" fill="#111" text-anchor="start" textLength="32" lengthAdjust="spacingAndGlyphs">IgG control</text>
<rect x="585.3" y="50.4" width="6.8" height="4.7" fill="#fff" stroke="#111111" stroke-width="1.4"/>
<text x="594.8" y="55.13" font-size="6.6" fill="#111" text-anchor="start" textLength="20.3" lengthAdjust="spacingAndGlyphs">control</text>
<rect x="585.3" y="60.45" width="6.8" height="4.7" fill="#fff" stroke="#ee1c1c" stroke-width="1.4"/>
<text x="594.8" y="65.18" font-size="6.6" fill="#111" text-anchor="start" textLength="29.5" lengthAdjust="spacingAndGlyphs">octyl-2HG</text>
<rect x="585.3" y="70.65" width="6.8" height="4.7" fill="#fff" stroke="#1ec81e" stroke-width="1.4"/>
<text x="594.8" y="75.38" font-size="6.6" fill="#111" text-anchor="start" textLength="50.5" lengthAdjust="spacingAndGlyphs">octyl-2HG + 2Cda</text>
<rect x="63.1" y="245.9" width="129.3" height="128.7" fill="none" stroke="#8e8e8e" stroke-width="1.3"/>
<line x1="59.1" y1="374.6" x2="63.1" y2="374.6" stroke="#111" stroke-width="1"/>
<text x="57.3" y="374.9" font-size="4.9" fill="#222" text-anchor="end">0</text>
<line x1="61.2" y1="368.45" x2="63.1" y2="368.45" stroke="#555" stroke-width="0.8"/>
<line x1="61.2" y1="362.3" x2="63.1" y2="362.3" stroke="#555" stroke-width="0.8"/>
<line x1="61.2" y1="356.15" x2="63.1" y2="356.15" stroke="#555" stroke-width="0.8"/>
<line x1="59.1" y1="350" x2="63.1" y2="350" stroke="#111" stroke-width="1"/>
<text x="57.3" y="352.4" font-size="4.9" fill="#222" text-anchor="end">20</text>
<line x1="61.2" y1="343.85" x2="63.1" y2="343.85" stroke="#555" stroke-width="0.8"/>
<line x1="61.2" y1="337.7" x2="63.1" y2="337.7" stroke="#555" stroke-width="0.8"/>
<line x1="61.2" y1="331.55" x2="63.1" y2="331.55" stroke="#555" stroke-width="0.8"/>
<line x1="59.1" y1="325.4" x2="63.1" y2="325.4" stroke="#111" stroke-width="1"/>
<text x="57.3" y="327.8" font-size="4.9" fill="#222" text-anchor="end">40</text>
<line x1="61.2" y1="319.25" x2="63.1" y2="319.25" stroke="#555" stroke-width="0.8"/>
<line x1="61.2" y1="313.1" x2="63.1" y2="313.1" stroke="#555" stroke-width="0.8"/>
<line x1="61.2" y1="306.95" x2="63.1" y2="306.95" stroke="#555" stroke-width="0.8"/>
<line x1="59.1" y1="300.8" x2="63.1" y2="300.8" stroke="#111" stroke-width="1"/>
<text x="57.3" y="303.2" font-size="4.9" fill="#222" text-anchor="end">60</text>
<line x1="61.2" y1="294.65" x2="63.1" y2="294.65" stroke="#555" stroke-width="0.8"/>
<line x1="61.2" y1="288.5" x2="63.1" y2="288.5" stroke="#555" stroke-width="0.8"/>
<line x1="61.2" y1="282.35" x2="63.1" y2="282.35" stroke="#555" stroke-width="0.8"/>
<line x1="59.1" y1="276.2" x2="63.1" y2="276.2" stroke="#111" stroke-width="1"/>
<text x="57.3" y="278.6" font-size="4.9" fill="#222" text-anchor="end">80</text>
<line x1="61.2" y1="270.05" x2="63.1" y2="270.05" stroke="#555" stroke-width="0.8"/>
<line x1="61.2" y1="263.9" x2="63.1" y2="263.9" stroke="#555" stroke-width="0.8"/>
<line x1="61.2" y1="257.75" x2="63.1" y2="257.75" stroke="#555" stroke-width="0.8"/>
<line x1="59.1" y1="251.6" x2="63.1" y2="251.6" stroke="#111" stroke-width="1"/>
<text x="57.3" y="254" font-size="4.9" fill="#222" text-anchor="end">100</text>
<line x1="73.3" y1="374.6" x2="73.3" y2="376.6" stroke="#555" stroke-width="0.7"/>
<line x1="75.81" y1="374.6" x2="75.81" y2="376.6" stroke="#555" stroke-width="0.7"/>
<line x1="78.31" y1="374.6" x2="78.31" y2="376.6" stroke="#555" stroke-width="0.7"/>
<line x1="80.82" y1="374.6" x2="80.82" y2="376.6" stroke="#555" stroke-width="0.7"/>
<line x1="83.33" y1="374.6" x2="83.33" y2="376.6" stroke="#555" stroke-width="0.7"/>
<line x1="85.84" y1="374.6" x2="85.84" y2="376.6" stroke="#555" stroke-width="0.7"/>
<line x1="88.34" y1="374.6" x2="88.34" y2="376.6" stroke="#555" stroke-width="0.7"/>
<line x1="90.85" y1="374.6" x2="90.85" y2="376.6" stroke="#555" stroke-width="0.7"/>
<line x1="95.57" y1="374.6" x2="95.57" y2="376.6" stroke="#555" stroke-width="0.7"/>
<line x1="97.78" y1="374.6" x2="97.78" y2="376.6" stroke="#555" stroke-width="0.7"/>
<line x1="99.99" y1="374.6" x2="99.99" y2="376.6" stroke="#555" stroke-width="0.7"/>
<line x1="102.21" y1="374.6" x2="102.21" y2="376.6" stroke="#555" stroke-width="0.7"/>
<line x1="104.42" y1="374.6" x2="104.42" y2="376.6" stroke="#555" stroke-width="0.7"/>
<line x1="106.63" y1="374.6" x2="106.63" y2="376.6" stroke="#555" stroke-width="0.7"/>
<line x1="108.84" y1="374.6" x2="108.84" y2="376.6" stroke="#555" stroke-width="0.7"/>
<line x1="111.06" y1="374.6" x2="111.06" y2="376.6" stroke="#555" stroke-width="0.7"/>
<line x1="123.89" y1="374.6" x2="123.89" y2="376.6" stroke="#555" stroke-width="0.7"/>
<line x1="130.11" y1="374.6" x2="130.11" y2="376.6" stroke="#555" stroke-width="0.7"/>
<line x1="134.52" y1="374.6" x2="134.52" y2="376.6" stroke="#555" stroke-width="0.7"/>
<line x1="137.94" y1="374.6" x2="137.94" y2="376.6" stroke="#555" stroke-width="0.7"/>
<line x1="140.74" y1="374.6" x2="140.74" y2="376.6" stroke="#555" stroke-width="0.7"/>
<line x1="143.1" y1="374.6" x2="143.1" y2="376.6" stroke="#555" stroke-width="0.7"/>
<line x1="145.15" y1="374.6" x2="145.15" y2="376.6" stroke="#555" stroke-width="0.7"/>
<line x1="146.95" y1="374.6" x2="146.95" y2="376.6" stroke="#555" stroke-width="0.7"/>
<line x1="157.79" y1="374.6" x2="157.79" y2="376.6" stroke="#555" stroke-width="0.7"/>
<line x1="163.19" y1="374.6" x2="163.19" y2="376.6" stroke="#555" stroke-width="0.7"/>
<line x1="167.02" y1="374.6" x2="167.02" y2="376.6" stroke="#555" stroke-width="0.7"/>
<line x1="169.99" y1="374.6" x2="169.99" y2="376.6" stroke="#555" stroke-width="0.7"/>
<line x1="172.41" y1="374.6" x2="172.41" y2="376.6" stroke="#555" stroke-width="0.7"/>
<line x1="174.46" y1="374.6" x2="174.46" y2="376.6" stroke="#555" stroke-width="0.7"/>
<line x1="176.24" y1="374.6" x2="176.24" y2="376.6" stroke="#555" stroke-width="0.7"/>
<line x1="177.81" y1="374.6" x2="177.81" y2="376.6" stroke="#555" stroke-width="0.7"/>
<line x1="188.44" y1="374.6" x2="188.44" y2="376.6" stroke="#555" stroke-width="0.7"/>
<line x1="70.79" y1="374.6" x2="70.79" y2="378.2" stroke="#111" stroke-width="0.9"/>
<line x1="113.27" y1="374.6" x2="113.27" y2="378.2" stroke="#111" stroke-width="0.9"/>
<line x1="148.57" y1="374.6" x2="148.57" y2="378.2" stroke="#111" stroke-width="0.9"/>
<line x1="179.21" y1="374.6" x2="179.21" y2="378.2" stroke="#111" stroke-width="0.9"/>
<text x="69.99" y="386" font-size="5.5" fill="#222" text-anchor="start">-10<tspan font-size="85%" dy="-2.4">3</tspan></text>
<text x="93.26" y="386" font-size="5.5" fill="#222" text-anchor="start">0</text>
<text x="113.17" y="386" font-size="5.5" fill="#222" text-anchor="start">10<tspan font-size="85%" dy="-2.4">3</tspan></text>
<text x="148.47" y="386" font-size="5.5" fill="#222" text-anchor="start">10<tspan font-size="85%" dy="-2.4">4</tspan></text>
<text x="179.11" y="386" font-size="5.5" fill="#222" text-anchor="start">10<tspan font-size="85%" dy="-2.4">5</tspan></text>
<rect x="88.36" y="374" width="5.8" height="3" fill="#111" stroke="none" stroke-width="1"/>
<line x1="63.9" y1="374.3" x2="191.6" y2="374.3" stroke="#b89090" stroke-width="0.8"/>
<path d="M93.52,374.48 C93.93,373.56 95.31,374.55 95.97,368.96 C96.63,363.37 97.08,352.3 97.5,340.96 C97.92,329.62 98.17,313.92 98.5,300.9 C98.84,287.89 99.26,269.87 99.51,262.89 C99.75,255.91 99.75,257.81 100,259.01 C100.24,260.2 100.75,263.2 101,270.04 C101.25,276.89 101.24,291.77 101.49,300.09 C101.74,308.4 102.14,314.36 102.51,319.91 C102.88,325.46 103.12,327.27 103.7,333.4 C104.27,339.53 104.93,350.87 105.98,356.7 C107.03,362.52 108.49,365.62 109.99,368.35 C111.49,371.07 113.31,372.03 114.98,373.05 C116.65,374.07 119.17,374.24 120,374.48" fill="none" stroke="#333" stroke-width="0.9" stroke-dasharray="0.9,0.9"/>
<path d="M90.66,374.48 C91.18,374.33 92.96,374.61 93.8,373.6 C94.64,372.59 95.22,371.22 95.7,368.41 C96.19,365.59 96.39,362.53 96.71,356.7 C97.02,350.86 97.24,341.22 97.6,333.4 C97.97,325.58 98.51,317.86 98.89,309.79 C99.27,301.73 99.61,292.05 99.89,285 C100.18,277.96 100.34,271.77 100.61,267.51 C100.87,263.24 101.17,261.38 101.49,259.42 C101.8,257.45 102.2,255.7 102.51,255.7 C102.82,255.7 103.06,257.45 103.33,259.42 C103.59,261.38 103.77,263.24 104.1,267.51 C104.43,271.77 104.86,277.96 105.31,285 C105.76,292.05 106.2,301.73 106.8,309.79 C107.4,317.86 108.06,325.58 108.91,333.4 C109.76,341.22 110.45,350.86 111.91,356.7 C113.38,362.53 115.56,365.69 117.69,368.41 C119.83,371.13 122.65,372.03 124.7,373.01 C126.76,373.98 128.52,374.03 130,374.27 C131.48,374.52 132.98,374.44 133.57,374.48" fill="none" stroke="#111111" stroke-width="0.95" stroke-linejoin="round"/>
<path d="M94.74,374.48 C95.45,374.37 97.7,374.83 98.99,373.8 C100.29,372.78 101.24,371.2 102.51,368.35 C103.78,365.5 105.34,362.52 106.6,356.7 C107.86,350.87 109.22,341.25 110.07,333.4 C110.92,325.55 111,317.66 111.71,309.59 C112.41,301.52 113.62,291.98 114.3,284.96 C114.98,277.95 115.31,271.6 115.79,267.51 C116.28,263.42 116.81,261.89 117.22,260.44 C117.64,258.99 117.97,258.73 118.31,258.8 C118.65,258.87 118.99,260.27 119.27,260.85 C119.55,261.43 119.66,261.17 120,262.28 C120.34,263.39 120.76,263.73 121.31,267.51 C121.86,271.29 122.63,277.88 123.29,284.96 C123.96,292.04 124.57,301.93 125.3,310 C126.02,318.07 126.68,325.62 127.65,333.4 C128.62,341.18 129.86,350.87 131.12,356.7 C132.38,362.52 133.85,365.66 135.21,368.35 C136.57,371.04 138.34,372.26 139.3,372.84 C140.25,373.42 139.65,371.99 140.93,371.82 C142.22,371.65 145.57,371.72 147,371.82 C148.43,371.92 148.57,372.04 149.52,372.43 C150.47,372.83 151.61,373.83 152.7,374.17 C153.79,374.51 155.5,374.43 156.06,374.48" fill="none" stroke="#ee1c1c" stroke-width="0.95" stroke-linejoin="round"/>
<rect x="145.8" y="250.7" width="8" height="4.6" fill="#fff" stroke="#444" stroke-width="1.1" stroke-dasharray="1.1,1.1"/>
<text x="156.8" y="255.38" font-size="6.6" fill="#111" text-anchor="start" textLength="29.7" lengthAdjust="spacingAndGlyphs">IgG control</text>
<rect x="145.8" y="261.3" width="8" height="4.6" fill="#fff" stroke="#111111" stroke-width="1.4"/>
<text x="156.8" y="265.98" font-size="6.6" fill="#111" text-anchor="start" textLength="20.6" lengthAdjust="spacingAndGlyphs">IDH2wt</text>
<rect x="145.8" y="272.7" width="8" height="4.6" fill="#fff" stroke="#ee1c1c" stroke-width="1.4"/>
<text x="156.8" y="277.38" font-size="6.6" fill="#111" text-anchor="start" textLength="33.3" lengthAdjust="spacingAndGlyphs">IDH2 R140Q</text>
<rect x="219.6" y="246.5" width="128.8" height="128" fill="none" stroke="#8e8e8e" stroke-width="1.3"/>
<line x1="215.6" y1="374.5" x2="219.6" y2="374.5" stroke="#111" stroke-width="1"/>
<text x="213.8" y="374.8" font-size="4.9" fill="#222" text-anchor="end">0</text>
<line x1="217.7" y1="368.38" x2="219.6" y2="368.38" stroke="#555" stroke-width="0.8"/>
<line x1="217.7" y1="362.27" x2="219.6" y2="362.27" stroke="#555" stroke-width="0.8"/>
<line x1="217.7" y1="356.15" x2="219.6" y2="356.15" stroke="#555" stroke-width="0.8"/>
<line x1="215.6" y1="350.04" x2="219.6" y2="350.04" stroke="#111" stroke-width="1"/>
<text x="213.8" y="352.44" font-size="4.9" fill="#222" text-anchor="end">20</text>
<line x1="217.7" y1="343.93" x2="219.6" y2="343.93" stroke="#555" stroke-width="0.8"/>
<line x1="217.7" y1="337.81" x2="219.6" y2="337.81" stroke="#555" stroke-width="0.8"/>
<line x1="217.7" y1="331.69" x2="219.6" y2="331.69" stroke="#555" stroke-width="0.8"/>
<line x1="215.6" y1="325.58" x2="219.6" y2="325.58" stroke="#111" stroke-width="1"/>
<text x="213.8" y="327.98" font-size="4.9" fill="#222" text-anchor="end">40</text>
<line x1="217.7" y1="319.46" x2="219.6" y2="319.46" stroke="#555" stroke-width="0.8"/>
<line x1="217.7" y1="313.35" x2="219.6" y2="313.35" stroke="#555" stroke-width="0.8"/>
<line x1="217.7" y1="307.24" x2="219.6" y2="307.24" stroke="#555" stroke-width="0.8"/>
<line x1="215.6" y1="301.12" x2="219.6" y2="301.12" stroke="#111" stroke-width="1"/>
<text x="213.8" y="303.52" font-size="4.9" fill="#222" text-anchor="end">60</text>
<line x1="217.7" y1="295" x2="219.6" y2="295" stroke="#555" stroke-width="0.8"/>
<line x1="217.7" y1="288.89" x2="219.6" y2="288.89" stroke="#555" stroke-width="0.8"/>
<line x1="217.7" y1="282.77" x2="219.6" y2="282.77" stroke="#555" stroke-width="0.8"/>
<line x1="215.6" y1="276.66" x2="219.6" y2="276.66" stroke="#111" stroke-width="1"/>
<text x="213.8" y="279.06" font-size="4.9" fill="#222" text-anchor="end">80</text>
<line x1="217.7" y1="270.54" x2="219.6" y2="270.54" stroke="#555" stroke-width="0.8"/>
<line x1="217.7" y1="264.43" x2="219.6" y2="264.43" stroke="#555" stroke-width="0.8"/>
<line x1="217.7" y1="258.31" x2="219.6" y2="258.31" stroke="#555" stroke-width="0.8"/>
<line x1="215.6" y1="252.2" x2="219.6" y2="252.2" stroke="#111" stroke-width="1"/>
<text x="213.8" y="254.6" font-size="4.9" fill="#222" text-anchor="end">100</text>
<line x1="229.76" y1="374.5" x2="229.76" y2="376.5" stroke="#555" stroke-width="0.7"/>
<line x1="232.26" y1="374.5" x2="232.26" y2="376.5" stroke="#555" stroke-width="0.7"/>
<line x1="234.76" y1="374.5" x2="234.76" y2="376.5" stroke="#555" stroke-width="0.7"/>
<line x1="237.25" y1="374.5" x2="237.25" y2="376.5" stroke="#555" stroke-width="0.7"/>
<line x1="239.75" y1="374.5" x2="239.75" y2="376.5" stroke="#555" stroke-width="0.7"/>
<line x1="242.25" y1="374.5" x2="242.25" y2="376.5" stroke="#555" stroke-width="0.7"/>
<line x1="244.74" y1="374.5" x2="244.74" y2="376.5" stroke="#555" stroke-width="0.7"/>
<line x1="247.24" y1="374.5" x2="247.24" y2="376.5" stroke="#555" stroke-width="0.7"/>
<line x1="251.94" y1="374.5" x2="251.94" y2="376.5" stroke="#555" stroke-width="0.7"/>
<line x1="254.15" y1="374.5" x2="254.15" y2="376.5" stroke="#555" stroke-width="0.7"/>
<line x1="256.35" y1="374.5" x2="256.35" y2="376.5" stroke="#555" stroke-width="0.7"/>
<line x1="258.55" y1="374.5" x2="258.55" y2="376.5" stroke="#555" stroke-width="0.7"/>
<line x1="260.76" y1="374.5" x2="260.76" y2="376.5" stroke="#555" stroke-width="0.7"/>
<line x1="262.96" y1="374.5" x2="262.96" y2="376.5" stroke="#555" stroke-width="0.7"/>
<line x1="265.17" y1="374.5" x2="265.17" y2="376.5" stroke="#555" stroke-width="0.7"/>
<line x1="267.37" y1="374.5" x2="267.37" y2="376.5" stroke="#555" stroke-width="0.7"/>
<line x1="280.16" y1="374.5" x2="280.16" y2="376.5" stroke="#555" stroke-width="0.7"/>
<line x1="286.35" y1="374.5" x2="286.35" y2="376.5" stroke="#555" stroke-width="0.7"/>
<line x1="290.74" y1="374.5" x2="290.74" y2="376.5" stroke="#555" stroke-width="0.7"/>
<line x1="294.15" y1="374.5" x2="294.15" y2="376.5" stroke="#555" stroke-width="0.7"/>
<line x1="296.94" y1="374.5" x2="296.94" y2="376.5" stroke="#555" stroke-width="0.7"/>
<line x1="299.29" y1="374.5" x2="299.29" y2="376.5" stroke="#555" stroke-width="0.7"/>
<line x1="301.33" y1="374.5" x2="301.33" y2="376.5" stroke="#555" stroke-width="0.7"/>
<line x1="303.13" y1="374.5" x2="303.13" y2="376.5" stroke="#555" stroke-width="0.7"/>
<line x1="313.93" y1="374.5" x2="313.93" y2="376.5" stroke="#555" stroke-width="0.7"/>
<line x1="319.3" y1="374.5" x2="319.3" y2="376.5" stroke="#555" stroke-width="0.7"/>
<line x1="323.12" y1="374.5" x2="323.12" y2="376.5" stroke="#555" stroke-width="0.7"/>
<line x1="326.07" y1="374.5" x2="326.07" y2="376.5" stroke="#555" stroke-width="0.7"/>
<line x1="328.49" y1="374.5" x2="328.49" y2="376.5" stroke="#555" stroke-width="0.7"/>
<line x1="330.53" y1="374.5" x2="330.53" y2="376.5" stroke="#555" stroke-width="0.7"/>
<line x1="332.3" y1="374.5" x2="332.3" y2="376.5" stroke="#555" stroke-width="0.7"/>
<line x1="333.87" y1="374.5" x2="333.87" y2="376.5" stroke="#555" stroke-width="0.7"/>
<line x1="344.45" y1="374.5" x2="344.45" y2="376.5" stroke="#555" stroke-width="0.7"/>
<line x1="227.26" y1="374.5" x2="227.26" y2="378.1" stroke="#111" stroke-width="0.9"/>
<line x1="269.57" y1="374.5" x2="269.57" y2="378.1" stroke="#111" stroke-width="0.9"/>
<line x1="304.74" y1="374.5" x2="304.74" y2="378.1" stroke="#111" stroke-width="0.9"/>
<line x1="335.26" y1="374.5" x2="335.26" y2="378.1" stroke="#111" stroke-width="0.9"/>
<text x="226.46" y="385.9" font-size="5.5" fill="#222" text-anchor="start">-10<tspan font-size="85%" dy="-2.4">3</tspan></text>
<text x="249.64" y="385.9" font-size="5.5" fill="#222" text-anchor="start">0</text>
<text x="269.47" y="385.9" font-size="5.5" fill="#222" text-anchor="start">10<tspan font-size="85%" dy="-2.4">3</tspan></text>
<text x="304.64" y="385.9" font-size="5.5" fill="#222" text-anchor="start">10<tspan font-size="85%" dy="-2.4">4</tspan></text>
<text x="335.16" y="385.9" font-size="5.5" fill="#222" text-anchor="start">10<tspan font-size="85%" dy="-2.4">5</tspan></text>
<rect x="244.74" y="373.9" width="5.8" height="3" fill="#111" stroke="none" stroke-width="1"/>
<line x1="220.4" y1="374.2" x2="347.6" y2="374.2" stroke="#a8a078" stroke-width="0.8"/>
<path d="M247.7,374.48 C248.11,374.21 249.47,374.14 250.15,372.84 C250.83,371.55 251.24,371.14 251.79,366.71 C252.33,362.28 252.88,354.45 253.42,346.27 C253.97,338.1 254.51,327.88 255.06,317.66 C255.6,307.44 256.22,293.82 256.69,284.96 C257.17,276.11 257.54,269.29 257.92,264.52 C258.29,259.76 258.6,256.69 258.94,256.35 C259.28,256.01 259.59,257.71 259.96,262.48 C260.34,267.25 260.75,276.79 261.19,284.96 C261.63,293.14 262.14,303.7 262.62,311.53 C263.1,319.37 263.47,325.16 264.05,331.97 C264.63,338.78 265.34,347.3 266.09,352.41 C266.84,357.51 267.52,359.73 268.55,362.62 C269.57,365.52 270.93,368.07 272.22,369.78 C273.52,371.48 274.61,372.06 276.31,372.84 C278.02,373.63 281.42,374.21 282.44,374.48" fill="none" stroke="#111111" stroke-width="0.95" stroke-linejoin="round"/>
<path d="M253.83,374.48 C254.34,374.21 255.87,373.8 256.9,372.84 C257.92,371.89 258.94,371.48 259.96,368.76 C260.98,366.03 262.01,362.28 263.03,356.49 C264.05,350.7 265.17,342.19 266.09,334.01 C267.01,325.84 267.8,315.62 268.55,307.44 C269.3,299.27 269.91,291.77 270.59,284.96 C271.27,278.15 272.02,270.72 272.63,266.57 C273.25,262.41 273.72,260.71 274.27,260.03 C274.81,259.35 275.36,260.71 275.9,262.48 C276.45,264.25 276.96,266.57 277.54,270.66 C278.12,274.74 278.73,280.19 279.38,287.01 C280.02,293.82 280.74,303.36 281.42,311.53 C282.1,319.71 282.78,329.24 283.47,336.06 C284.15,342.87 284.66,347.64 285.51,352.41 C286.36,357.17 287.55,361.6 288.57,364.67 C289.6,367.73 290.28,369.44 291.64,370.8 C293,372.16 295.22,372.5 296.75,372.84 C298.28,373.18 299.47,372.77 300.84,372.84 C302.2,372.91 303.56,372.98 304.92,373.25 C306.29,373.52 308.33,374.27 309.01,374.48" fill="none" stroke="#ee1c1c" stroke-width="0.95" stroke-linejoin="round"/>
<path d="M251.79,374.48 C252.3,374.21 253.83,373.8 254.85,372.84 C255.87,371.89 257.07,371.14 257.92,368.76 C258.77,366.37 259.28,364.67 259.96,358.54 C260.64,352.41 261.39,341.51 262.01,331.97 C262.62,322.43 263.13,310.51 263.64,301.31 C264.15,292.12 264.63,283.6 265.07,276.79 C265.51,269.97 265.85,264.01 266.3,260.44 C266.74,256.86 267.29,255.84 267.73,255.33 C268.17,254.82 268.55,254.82 268.95,257.37 C269.36,259.93 269.7,264.01 270.18,270.66 C270.66,277.3 271.3,288.71 271.82,297.22 C272.33,305.74 272.67,314.26 273.25,321.75 C273.83,329.24 274.61,336.74 275.29,342.19 C275.97,347.64 276.48,350.7 277.33,354.45 C278.19,358.2 279.21,361.94 280.4,364.67 C281.59,367.39 282.78,369.16 284.49,370.8 C286.19,372.43 289.6,373.86 290.62,374.48" fill="none" stroke="#1ec81e" stroke-width="0.95" stroke-linejoin="round"/>
<rect x="286.1" y="250.7" width="6.8" height="4.6" fill="#fff" stroke="#111111" stroke-width="1.4"/>
<text x="294.3" y="255.38" font-size="6.6" fill="#111" text-anchor="start" textLength="20.8" lengthAdjust="spacingAndGlyphs">IDH2wt</text>
<rect x="286.1" y="260.5" width="6.8" height="4.6" fill="#fff" stroke="#ee1c1c" stroke-width="1.4"/>
<text x="294.3" y="265.18" font-size="6.6" fill="#111" text-anchor="start" textLength="34" lengthAdjust="spacingAndGlyphs">IDH2 R140Q</text>
<rect x="286.1" y="271.7" width="6.8" height="4.6" fill="#fff" stroke="#1ec81e" stroke-width="1.4"/>
<text x="294.3" y="276.38" font-size="6.6" fill="#111" text-anchor="start" textLength="51" lengthAdjust="spacingAndGlyphs">IDH2 R140Q + 2Cda</text>
<rect x="375.5" y="246" width="129.2" height="129.3" fill="none" stroke="#8e8e8e" stroke-width="1.3"/>
<line x1="371.5" y1="375.3" x2="375.5" y2="375.3" stroke="#111" stroke-width="1"/>
<text x="369.7" y="375.6" font-size="4.9" fill="#222" text-anchor="end">0</text>
<line x1="373.6" y1="369.12" x2="375.5" y2="369.12" stroke="#555" stroke-width="0.8"/>
<line x1="373.6" y1="362.94" x2="375.5" y2="362.94" stroke="#555" stroke-width="0.8"/>
<line x1="373.6" y1="356.76" x2="375.5" y2="356.76" stroke="#555" stroke-width="0.8"/>
<line x1="371.5" y1="350.58" x2="375.5" y2="350.58" stroke="#111" stroke-width="1"/>
<text x="369.7" y="352.98" font-size="4.9" fill="#222" text-anchor="end">20</text>
<line x1="373.6" y1="344.4" x2="375.5" y2="344.4" stroke="#555" stroke-width="0.8"/>
<line x1="373.6" y1="338.22" x2="375.5" y2="338.22" stroke="#555" stroke-width="0.8"/>
<line x1="373.6" y1="332.04" x2="375.5" y2="332.04" stroke="#555" stroke-width="0.8"/>
<line x1="371.5" y1="325.86" x2="375.5" y2="325.86" stroke="#111" stroke-width="1"/>
<text x="369.7" y="328.26" font-size="4.9" fill="#222" text-anchor="end">40</text>
<line x1="373.6" y1="319.68" x2="375.5" y2="319.68" stroke="#555" stroke-width="0.8"/>
<line x1="373.6" y1="313.5" x2="375.5" y2="313.5" stroke="#555" stroke-width="0.8"/>
<line x1="373.6" y1="307.32" x2="375.5" y2="307.32" stroke="#555" stroke-width="0.8"/>
<line x1="371.5" y1="301.14" x2="375.5" y2="301.14" stroke="#111" stroke-width="1"/>
<text x="369.7" y="303.54" font-size="4.9" fill="#222" text-anchor="end">60</text>
<line x1="373.6" y1="294.96" x2="375.5" y2="294.96" stroke="#555" stroke-width="0.8"/>
<line x1="373.6" y1="288.78" x2="375.5" y2="288.78" stroke="#555" stroke-width="0.8"/>
<line x1="373.6" y1="282.6" x2="375.5" y2="282.6" stroke="#555" stroke-width="0.8"/>
<line x1="371.5" y1="276.42" x2="375.5" y2="276.42" stroke="#111" stroke-width="1"/>
<text x="369.7" y="278.82" font-size="4.9" fill="#222" text-anchor="end">80</text>
<line x1="373.6" y1="270.24" x2="375.5" y2="270.24" stroke="#555" stroke-width="0.8"/>
<line x1="373.6" y1="264.06" x2="375.5" y2="264.06" stroke="#555" stroke-width="0.8"/>
<line x1="373.6" y1="257.88" x2="375.5" y2="257.88" stroke="#555" stroke-width="0.8"/>
<line x1="371.5" y1="251.7" x2="375.5" y2="251.7" stroke="#111" stroke-width="1"/>
<text x="369.7" y="254.1" font-size="4.9" fill="#222" text-anchor="end">100</text>
<line x1="385.69" y1="375.3" x2="385.69" y2="377.3" stroke="#555" stroke-width="0.7"/>
<line x1="388.2" y1="375.3" x2="388.2" y2="377.3" stroke="#555" stroke-width="0.7"/>
<line x1="390.7" y1="375.3" x2="390.7" y2="377.3" stroke="#555" stroke-width="0.7"/>
<line x1="393.21" y1="375.3" x2="393.21" y2="377.3" stroke="#555" stroke-width="0.7"/>
<line x1="395.71" y1="375.3" x2="395.71" y2="377.3" stroke="#555" stroke-width="0.7"/>
<line x1="398.22" y1="375.3" x2="398.22" y2="377.3" stroke="#555" stroke-width="0.7"/>
<line x1="400.72" y1="375.3" x2="400.72" y2="377.3" stroke="#555" stroke-width="0.7"/>
<line x1="403.23" y1="375.3" x2="403.23" y2="377.3" stroke="#555" stroke-width="0.7"/>
<line x1="407.94" y1="375.3" x2="407.94" y2="377.3" stroke="#555" stroke-width="0.7"/>
<line x1="410.15" y1="375.3" x2="410.15" y2="377.3" stroke="#555" stroke-width="0.7"/>
<line x1="412.37" y1="375.3" x2="412.37" y2="377.3" stroke="#555" stroke-width="0.7"/>
<line x1="414.58" y1="375.3" x2="414.58" y2="377.3" stroke="#555" stroke-width="0.7"/>
<line x1="416.79" y1="375.3" x2="416.79" y2="377.3" stroke="#555" stroke-width="0.7"/>
<line x1="419" y1="375.3" x2="419" y2="377.3" stroke="#555" stroke-width="0.7"/>
<line x1="421.21" y1="375.3" x2="421.21" y2="377.3" stroke="#555" stroke-width="0.7"/>
<line x1="423.42" y1="375.3" x2="423.42" y2="377.3" stroke="#555" stroke-width="0.7"/>
<line x1="436.25" y1="375.3" x2="436.25" y2="377.3" stroke="#555" stroke-width="0.7"/>
<line x1="442.46" y1="375.3" x2="442.46" y2="377.3" stroke="#555" stroke-width="0.7"/>
<line x1="446.87" y1="375.3" x2="446.87" y2="377.3" stroke="#555" stroke-width="0.7"/>
<line x1="450.28" y1="375.3" x2="450.28" y2="377.3" stroke="#555" stroke-width="0.7"/>
<line x1="453.08" y1="375.3" x2="453.08" y2="377.3" stroke="#555" stroke-width="0.7"/>
<line x1="455.44" y1="375.3" x2="455.44" y2="377.3" stroke="#555" stroke-width="0.7"/>
<line x1="457.48" y1="375.3" x2="457.48" y2="377.3" stroke="#555" stroke-width="0.7"/>
<line x1="459.29" y1="375.3" x2="459.29" y2="377.3" stroke="#555" stroke-width="0.7"/>
<line x1="470.12" y1="375.3" x2="470.12" y2="377.3" stroke="#555" stroke-width="0.7"/>
<line x1="475.51" y1="375.3" x2="475.51" y2="377.3" stroke="#555" stroke-width="0.7"/>
<line x1="479.34" y1="375.3" x2="479.34" y2="377.3" stroke="#555" stroke-width="0.7"/>
<line x1="482.3" y1="375.3" x2="482.3" y2="377.3" stroke="#555" stroke-width="0.7"/>
<line x1="484.73" y1="375.3" x2="484.73" y2="377.3" stroke="#555" stroke-width="0.7"/>
<line x1="486.78" y1="375.3" x2="486.78" y2="377.3" stroke="#555" stroke-width="0.7"/>
<line x1="488.55" y1="375.3" x2="488.55" y2="377.3" stroke="#555" stroke-width="0.7"/>
<line x1="490.12" y1="375.3" x2="490.12" y2="377.3" stroke="#555" stroke-width="0.7"/>
<line x1="500.74" y1="375.3" x2="500.74" y2="377.3" stroke="#555" stroke-width="0.7"/>
<line x1="383.19" y1="375.3" x2="383.19" y2="378.9" stroke="#111" stroke-width="0.9"/>
<line x1="425.63" y1="375.3" x2="425.63" y2="378.9" stroke="#111" stroke-width="0.9"/>
<line x1="460.9" y1="375.3" x2="460.9" y2="378.9" stroke="#111" stroke-width="0.9"/>
<line x1="491.52" y1="375.3" x2="491.52" y2="378.9" stroke="#111" stroke-width="0.9"/>
<text x="382.39" y="386.7" font-size="5.5" fill="#222" text-anchor="start">-10<tspan font-size="85%" dy="-2.4">3</tspan></text>
<text x="405.63" y="386.7" font-size="5.5" fill="#222" text-anchor="start">0</text>
<text x="425.53" y="386.7" font-size="5.5" fill="#222" text-anchor="start">10<tspan font-size="85%" dy="-2.4">3</tspan></text>
<text x="460.8" y="386.7" font-size="5.5" fill="#222" text-anchor="start">10<tspan font-size="85%" dy="-2.4">4</tspan></text>
<text x="491.42" y="386.7" font-size="5.5" fill="#222" text-anchor="start">10<tspan font-size="85%" dy="-2.4">5</tspan></text>
<rect x="400.73" y="374.7" width="5.8" height="3" fill="#111" stroke="none" stroke-width="1"/>
<line x1="376.3" y1="375" x2="503.9" y2="375" stroke="#a8a078" stroke-width="0.8"/>
<path d="M403.72,374.89 C404.16,374.55 405.66,374.55 406.38,372.84 C407.09,371.14 407.47,369.78 408.01,364.67 C408.56,359.56 409.1,351.04 409.65,342.19 C410.19,333.33 410.74,321.75 411.28,311.53 C411.83,301.31 412.44,289.05 412.92,280.87 C413.4,272.7 413.74,266.57 414.14,262.48 C414.55,258.39 414.96,256.35 415.37,256.35 C415.78,256.35 416.19,257.71 416.6,262.48 C417.01,267.25 417.41,276.79 417.82,284.96 C418.23,293.14 418.57,303.36 419.05,311.53 C419.53,319.71 420.07,326.86 420.68,334.01 C421.3,341.16 421.98,349.34 422.73,354.45 C423.48,359.56 424.09,361.77 425.18,364.67 C426.27,367.56 427.57,370.19 429.27,371.82 C430.97,373.46 433.7,373.97 435.4,374.48 C437.1,374.99 438.81,374.82 439.49,374.89" fill="none" stroke="#111111" stroke-width="0.95" stroke-linejoin="round"/>
<path d="M407.81,374.89 C408.32,374.72 409.85,374.89 410.87,373.86 C411.9,372.84 412.92,371.65 413.94,368.76 C414.96,365.86 415.98,362.28 417.01,356.49 C418.03,350.7 419.12,342.19 420.07,334.01 C421.03,325.84 421.88,315.62 422.73,307.44 C423.58,299.27 424.36,291.43 425.18,284.96 C426,278.49 426.95,272.53 427.63,268.61 C428.31,264.7 428.79,262.89 429.27,261.46 C429.75,260.03 430.02,259.69 430.49,260.03 C430.97,260.37 431.58,261.73 432.13,263.5 C432.67,265.27 433.22,266.74 433.76,270.66 C434.31,274.57 434.79,279.85 435.4,287.01 C436.01,294.16 436.76,305.4 437.44,313.57 C438.12,321.75 438.81,329.58 439.49,336.06 C440.17,342.53 440.68,347.64 441.53,352.41 C442.38,357.17 443.4,361.6 444.6,364.67 C445.79,367.73 447.15,369.37 448.68,370.8 C450.22,372.23 451.92,372.84 453.79,373.25 C455.67,373.66 458.22,373.05 459.92,373.25 C461.63,373.46 462.31,374.21 464.01,374.48 C465.71,374.75 469.12,374.82 470.14,374.89" fill="none" stroke="#ee1c1c" stroke-width="0.95" stroke-linejoin="round"/>
<path d="M405.77,374.89 C406.28,374.61 407.98,374.27 408.83,373.25 C409.68,372.23 410.19,371.89 410.87,368.76 C411.56,365.62 412.24,361.6 412.92,354.45 C413.6,347.3 414.35,335.37 414.96,325.84 C415.58,316.3 416.09,306.08 416.6,297.22 C417.11,288.37 417.58,279.17 418.03,272.7 C418.47,266.23 418.88,261.05 419.25,258.39 C419.63,255.74 419.9,256.08 420.28,256.76 C420.65,257.44 421.09,258.46 421.5,262.48 C421.91,266.5 422.25,273.38 422.73,280.87 C423.21,288.37 423.78,298.93 424.36,307.44 C424.94,315.96 425.56,325.5 426.2,331.97 C426.85,338.44 427.39,341.51 428.25,346.27 C429.1,351.04 430.12,356.83 431.31,360.58 C432.5,364.33 433.87,366.64 435.4,368.76 C436.93,370.87 438.64,372.23 440.51,373.25 C442.38,374.27 445.62,374.61 446.64,374.89" fill="none" stroke="#1ec81e" stroke-width="0.95" stroke-linejoin="round"/>
<rect x="441.1" y="249.7" width="7" height="4.6" fill="#fff" stroke="#111111" stroke-width="1.4"/>
<text x="449.5" y="254.38" font-size="6.6" fill="#111" text-anchor="start" textLength="20.8" lengthAdjust="spacingAndGlyphs">IDH2wt</text>
<rect x="441.1" y="260.8" width="7" height="4.6" fill="#fff" stroke="#ee1c1c" stroke-width="1.4"/>
<text x="449.5" y="265.48" font-size="6.6" fill="#111" text-anchor="start" textLength="34" lengthAdjust="spacingAndGlyphs">IDH2 R140Q</text>
<rect x="441.1" y="271.3" width="7" height="4.6" fill="#fff" stroke="#1ec81e" stroke-width="1.4"/>
<text x="449.5" y="275.98" font-size="6.6" fill="#111" text-anchor="start" textLength="52.4" lengthAdjust="spacingAndGlyphs">IDH2 R140Q + 2Cda</text>
<rect x="530.5" y="246" width="129" height="128.8" fill="none" stroke="#8e8e8e" stroke-width="1.3"/>
<line x1="526.5" y1="374.8" x2="530.5" y2="374.8" stroke="#111" stroke-width="1"/>
<text x="524.7" y="375.1" font-size="4.9" fill="#222" text-anchor="end">0</text>
<line x1="528.6" y1="368.64" x2="530.5" y2="368.64" stroke="#555" stroke-width="0.8"/>
<line x1="528.6" y1="362.49" x2="530.5" y2="362.49" stroke="#555" stroke-width="0.8"/>
<line x1="528.6" y1="356.34" x2="530.5" y2="356.34" stroke="#555" stroke-width="0.8"/>
<line x1="526.5" y1="350.18" x2="530.5" y2="350.18" stroke="#111" stroke-width="1"/>
<text x="524.7" y="352.58" font-size="4.9" fill="#222" text-anchor="end">20</text>
<line x1="528.6" y1="344.02" x2="530.5" y2="344.02" stroke="#555" stroke-width="0.8"/>
<line x1="528.6" y1="337.87" x2="530.5" y2="337.87" stroke="#555" stroke-width="0.8"/>
<line x1="528.6" y1="331.72" x2="530.5" y2="331.72" stroke="#555" stroke-width="0.8"/>
<line x1="526.5" y1="325.56" x2="530.5" y2="325.56" stroke="#111" stroke-width="1"/>
<text x="524.7" y="327.96" font-size="4.9" fill="#222" text-anchor="end">40</text>
<line x1="528.6" y1="319.4" x2="530.5" y2="319.4" stroke="#555" stroke-width="0.8"/>
<line x1="528.6" y1="313.25" x2="530.5" y2="313.25" stroke="#555" stroke-width="0.8"/>
<line x1="528.6" y1="307.1" x2="530.5" y2="307.1" stroke="#555" stroke-width="0.8"/>
<line x1="526.5" y1="300.94" x2="530.5" y2="300.94" stroke="#111" stroke-width="1"/>
<text x="524.7" y="303.34" font-size="4.9" fill="#222" text-anchor="end">60</text>
<line x1="528.6" y1="294.78" x2="530.5" y2="294.78" stroke="#555" stroke-width="0.8"/>
<line x1="528.6" y1="288.63" x2="530.5" y2="288.63" stroke="#555" stroke-width="0.8"/>
<line x1="528.6" y1="282.48" x2="530.5" y2="282.48" stroke="#555" stroke-width="0.8"/>
<line x1="526.5" y1="276.32" x2="530.5" y2="276.32" stroke="#111" stroke-width="1"/>
<text x="524.7" y="278.72" font-size="4.9" fill="#222" text-anchor="end">80</text>
<line x1="528.6" y1="270.16" x2="530.5" y2="270.16" stroke="#555" stroke-width="0.8"/>
<line x1="528.6" y1="264.01" x2="530.5" y2="264.01" stroke="#555" stroke-width="0.8"/>
<line x1="528.6" y1="257.86" x2="530.5" y2="257.86" stroke="#555" stroke-width="0.8"/>
<line x1="526.5" y1="251.7" x2="530.5" y2="251.7" stroke="#111" stroke-width="1"/>
<text x="524.7" y="254.1" font-size="4.9" fill="#222" text-anchor="end">100</text>
<line x1="540.68" y1="374.8" x2="540.68" y2="376.8" stroke="#555" stroke-width="0.7"/>
<line x1="543.18" y1="374.8" x2="543.18" y2="376.8" stroke="#555" stroke-width="0.7"/>
<line x1="545.68" y1="374.8" x2="545.68" y2="376.8" stroke="#555" stroke-width="0.7"/>
<line x1="548.18" y1="374.8" x2="548.18" y2="376.8" stroke="#555" stroke-width="0.7"/>
<line x1="550.68" y1="374.8" x2="550.68" y2="376.8" stroke="#555" stroke-width="0.7"/>
<line x1="553.18" y1="374.8" x2="553.18" y2="376.8" stroke="#555" stroke-width="0.7"/>
<line x1="555.68" y1="374.8" x2="555.68" y2="376.8" stroke="#555" stroke-width="0.7"/>
<line x1="558.18" y1="374.8" x2="558.18" y2="376.8" stroke="#555" stroke-width="0.7"/>
<line x1="562.89" y1="374.8" x2="562.89" y2="376.8" stroke="#555" stroke-width="0.7"/>
<line x1="565.1" y1="374.8" x2="565.1" y2="376.8" stroke="#555" stroke-width="0.7"/>
<line x1="567.31" y1="374.8" x2="567.31" y2="376.8" stroke="#555" stroke-width="0.7"/>
<line x1="569.52" y1="374.8" x2="569.52" y2="376.8" stroke="#555" stroke-width="0.7"/>
<line x1="571.72" y1="374.8" x2="571.72" y2="376.8" stroke="#555" stroke-width="0.7"/>
<line x1="573.93" y1="374.8" x2="573.93" y2="376.8" stroke="#555" stroke-width="0.7"/>
<line x1="576.14" y1="374.8" x2="576.14" y2="376.8" stroke="#555" stroke-width="0.7"/>
<line x1="578.34" y1="374.8" x2="578.34" y2="376.8" stroke="#555" stroke-width="0.7"/>
<line x1="591.15" y1="374.8" x2="591.15" y2="376.8" stroke="#555" stroke-width="0.7"/>
<line x1="597.35" y1="374.8" x2="597.35" y2="376.8" stroke="#555" stroke-width="0.7"/>
<line x1="601.75" y1="374.8" x2="601.75" y2="376.8" stroke="#555" stroke-width="0.7"/>
<line x1="605.17" y1="374.8" x2="605.17" y2="376.8" stroke="#555" stroke-width="0.7"/>
<line x1="607.96" y1="374.8" x2="607.96" y2="376.8" stroke="#555" stroke-width="0.7"/>
<line x1="610.31" y1="374.8" x2="610.31" y2="376.8" stroke="#555" stroke-width="0.7"/>
<line x1="612.36" y1="374.8" x2="612.36" y2="376.8" stroke="#555" stroke-width="0.7"/>
<line x1="614.16" y1="374.8" x2="614.16" y2="376.8" stroke="#555" stroke-width="0.7"/>
<line x1="624.97" y1="374.8" x2="624.97" y2="376.8" stroke="#555" stroke-width="0.7"/>
<line x1="630.36" y1="374.8" x2="630.36" y2="376.8" stroke="#555" stroke-width="0.7"/>
<line x1="634.18" y1="374.8" x2="634.18" y2="376.8" stroke="#555" stroke-width="0.7"/>
<line x1="637.14" y1="374.8" x2="637.14" y2="376.8" stroke="#555" stroke-width="0.7"/>
<line x1="639.56" y1="374.8" x2="639.56" y2="376.8" stroke="#555" stroke-width="0.7"/>
<line x1="641.61" y1="374.8" x2="641.61" y2="376.8" stroke="#555" stroke-width="0.7"/>
<line x1="643.38" y1="374.8" x2="643.38" y2="376.8" stroke="#555" stroke-width="0.7"/>
<line x1="644.94" y1="374.8" x2="644.94" y2="376.8" stroke="#555" stroke-width="0.7"/>
<line x1="655.55" y1="374.8" x2="655.55" y2="376.8" stroke="#555" stroke-width="0.7"/>
<line x1="538.18" y1="374.8" x2="538.18" y2="378.4" stroke="#111" stroke-width="0.9"/>
<line x1="580.55" y1="374.8" x2="580.55" y2="378.4" stroke="#111" stroke-width="0.9"/>
<line x1="615.77" y1="374.8" x2="615.77" y2="378.4" stroke="#111" stroke-width="0.9"/>
<line x1="646.34" y1="374.8" x2="646.34" y2="378.4" stroke="#111" stroke-width="0.9"/>
<text x="537.38" y="386.2" font-size="5.5" fill="#222" text-anchor="start">-10<tspan font-size="85%" dy="-2.4">3</tspan></text>
<text x="560.59" y="386.2" font-size="5.5" fill="#222" text-anchor="start">0</text>
<text x="580.45" y="386.2" font-size="5.5" fill="#222" text-anchor="start">10<tspan font-size="85%" dy="-2.4">3</tspan></text>
<text x="615.67" y="386.2" font-size="5.5" fill="#222" text-anchor="start">10<tspan font-size="85%" dy="-2.4">4</tspan></text>
<text x="646.24" y="386.2" font-size="5.5" fill="#222" text-anchor="start">10<tspan font-size="85%" dy="-2.4">5</tspan></text>
<rect x="555.69" y="374.2" width="5.8" height="3" fill="#111" stroke="none" stroke-width="1"/>
<line x1="531.3" y1="374.5" x2="658.7" y2="374.5" stroke="#a8a078" stroke-width="0.8"/>
<path d="M558.72,374.48 C559.16,374.21 560.66,374.48 561.38,372.84 C562.09,371.21 562.47,369.78 563.01,364.67 C563.56,359.56 564.1,351.72 564.65,342.19 C565.19,332.65 565.74,318.34 566.28,307.44 C566.83,296.54 567.44,284.62 567.92,276.79 C568.4,268.95 568.74,264.01 569.14,260.44 C569.55,256.86 569.96,254.99 570.37,255.33 C570.78,255.67 571.15,257.54 571.6,262.48 C572.04,267.42 572.55,276.79 573.03,284.96 C573.5,293.14 573.95,303.02 574.46,311.53 C574.97,320.05 575.48,328.9 576.09,336.06 C576.71,343.21 577.39,349.68 578.14,354.45 C578.89,359.22 579.57,361.94 580.59,364.67 C581.61,367.39 582.63,369.27 584.27,370.8 C585.9,372.33 588.53,373.25 590.4,373.86 C592.27,374.48 594.66,374.38 595.51,374.48" fill="none" stroke="#111111" stroke-width="0.95" stroke-linejoin="round"/>
<path d="M562.81,374.48 C563.32,374.27 564.85,374.21 565.87,373.25 C566.9,372.3 567.92,371.55 568.94,368.76 C569.96,365.96 570.98,362.28 572.01,356.49 C573.03,350.7 574.12,342.19 575.07,334.01 C576.03,325.84 576.88,315.62 577.73,307.44 C578.58,299.27 579.36,291.43 580.18,284.96 C581,278.49 581.95,272.53 582.63,268.61 C583.31,264.7 583.79,262.99 584.27,261.46 C584.75,259.93 585.02,259.07 585.49,259.42 C585.97,259.76 586.58,261.63 587.13,263.5 C587.67,265.38 588.22,266.74 588.76,270.66 C589.31,274.57 589.79,279.85 590.4,287.01 C591.01,294.16 591.76,305.4 592.44,313.57 C593.12,321.75 593.81,329.58 594.49,336.06 C595.17,342.53 595.68,347.64 596.53,352.41 C597.38,357.17 598.4,361.6 599.6,364.67 C600.79,367.73 602.15,369.5 603.68,370.8 C605.22,372.09 606.92,372.16 608.79,372.43 C610.67,372.71 613.22,372.2 614.92,372.43 C616.63,372.67 617.31,373.52 619.01,373.86 C620.71,374.21 624.12,374.38 625.14,374.48" fill="none" stroke="#ee1c1c" stroke-width="0.95" stroke-linejoin="round"/>
<path d="M560.77,374.48 C561.28,374.21 562.98,373.8 563.83,372.84 C564.68,371.89 565.19,371.82 565.87,368.76 C566.56,365.69 567.31,361.6 567.92,354.45 C568.53,347.3 569.04,336.06 569.55,325.84 C570.06,315.62 570.51,302.67 570.98,293.14 C571.46,283.6 571.97,274.4 572.41,268.61 C572.86,262.82 573.23,260.27 573.64,258.39 C574.05,256.52 574.39,256.69 574.87,257.37 C575.34,258.05 575.96,259.59 576.5,262.48 C577.05,265.38 577.59,269.63 578.14,274.74 C578.68,279.85 579.23,286.32 579.77,293.14 C580.32,299.95 580.83,308.47 581.41,315.62 C581.99,322.77 582.6,330.61 583.25,336.06 C583.89,341.51 584.44,344.57 585.29,348.32 C586.14,352.06 587.33,355.81 588.36,358.54 C589.38,361.26 590.23,362.62 591.42,364.67 C592.61,366.71 593.98,369.44 595.51,370.8 C597.04,372.16 598.74,372.43 600.62,372.84 C602.49,373.25 604.71,373.25 606.75,373.25 C608.79,373.25 611.18,372.84 612.88,372.84 C614.58,372.84 615.61,373.05 616.97,373.25 C618.33,373.46 619.69,373.86 621.06,374.07 C622.42,374.27 624.46,374.41 625.14,374.48" fill="none" stroke="#1ec81e" stroke-width="0.95" stroke-linejoin="round"/>
<rect x="598.2" y="251" width="6.5" height="4.6" fill="#fff" stroke="#111111" stroke-width="1.4"/>
<text x="605.9" y="255.68" font-size="6.6" fill="#111" text-anchor="start" textLength="20.8" lengthAdjust="spacingAndGlyphs">IDH2wt</text>
<rect x="598.2" y="261.5" width="6.5" height="4.6" fill="#fff" stroke="#ee1c1c" stroke-width="1.4"/>
<text x="605.9" y="266.18" font-size="6.6" fill="#111" text-anchor="start" textLength="34" lengthAdjust="spacingAndGlyphs">IDH2 R140Q</text>
<rect x="598.2" y="272" width="6.5" height="4.6" fill="#fff" stroke="#1ec81e" stroke-width="1.4"/>
<text x="605.9" y="276.68" font-size="6.6" fill="#111" text-anchor="start" textLength="49.8" lengthAdjust="spacingAndGlyphs">IDH2 R140Q + AGI</text>
<rect x="63" y="427.3" width="128.8" height="126.3" fill="none" stroke="#8e8e8e" stroke-width="1.3"/>
<line x1="59" y1="553.6" x2="63" y2="553.6" stroke="#111" stroke-width="1"/>
<text x="57.2" y="553.9" font-size="4.9" fill="#222" text-anchor="end">0</text>
<line x1="61.1" y1="547.57" x2="63" y2="547.57" stroke="#555" stroke-width="0.8"/>
<line x1="61.1" y1="541.54" x2="63" y2="541.54" stroke="#555" stroke-width="0.8"/>
<line x1="61.1" y1="535.51" x2="63" y2="535.51" stroke="#555" stroke-width="0.8"/>
<line x1="59" y1="529.48" x2="63" y2="529.48" stroke="#111" stroke-width="1"/>
<text x="57.2" y="531.88" font-size="4.9" fill="#222" text-anchor="end">20</text>
<line x1="61.1" y1="523.45" x2="63" y2="523.45" stroke="#555" stroke-width="0.8"/>
<line x1="61.1" y1="517.42" x2="63" y2="517.42" stroke="#555" stroke-width="0.8"/>
<line x1="61.1" y1="511.39" x2="63" y2="511.39" stroke="#555" stroke-width="0.8"/>
<line x1="59" y1="505.36" x2="63" y2="505.36" stroke="#111" stroke-width="1"/>
<text x="57.2" y="507.76" font-size="4.9" fill="#222" text-anchor="end">40</text>
<line x1="61.1" y1="499.33" x2="63" y2="499.33" stroke="#555" stroke-width="0.8"/>
<line x1="61.1" y1="493.3" x2="63" y2="493.3" stroke="#555" stroke-width="0.8"/>
<line x1="61.1" y1="487.27" x2="63" y2="487.27" stroke="#555" stroke-width="0.8"/>
<line x1="59" y1="481.24" x2="63" y2="481.24" stroke="#111" stroke-width="1"/>
<text x="57.2" y="483.64" font-size="4.9" fill="#222" text-anchor="end">60</text>
<line x1="61.1" y1="475.21" x2="63" y2="475.21" stroke="#555" stroke-width="0.8"/>
<line x1="61.1" y1="469.18" x2="63" y2="469.18" stroke="#555" stroke-width="0.8"/>
<line x1="61.1" y1="463.15" x2="63" y2="463.15" stroke="#555" stroke-width="0.8"/>
<line x1="59" y1="457.12" x2="63" y2="457.12" stroke="#111" stroke-width="1"/>
<text x="57.2" y="459.52" font-size="4.9" fill="#222" text-anchor="end">80</text>
<line x1="61.1" y1="451.09" x2="63" y2="451.09" stroke="#555" stroke-width="0.8"/>
<line x1="61.1" y1="445.06" x2="63" y2="445.06" stroke="#555" stroke-width="0.8"/>
<line x1="61.1" y1="439.03" x2="63" y2="439.03" stroke="#555" stroke-width="0.8"/>
<line x1="59" y1="433" x2="63" y2="433" stroke="#111" stroke-width="1"/>
<text x="57.2" y="435.4" font-size="4.9" fill="#222" text-anchor="end">100</text>
<line x1="73.16" y1="553.6" x2="73.16" y2="555.6" stroke="#555" stroke-width="0.7"/>
<line x1="75.66" y1="553.6" x2="75.66" y2="555.6" stroke="#555" stroke-width="0.7"/>
<line x1="78.16" y1="553.6" x2="78.16" y2="555.6" stroke="#555" stroke-width="0.7"/>
<line x1="80.65" y1="553.6" x2="80.65" y2="555.6" stroke="#555" stroke-width="0.7"/>
<line x1="83.15" y1="553.6" x2="83.15" y2="555.6" stroke="#555" stroke-width="0.7"/>
<line x1="85.65" y1="553.6" x2="85.65" y2="555.6" stroke="#555" stroke-width="0.7"/>
<line x1="88.14" y1="553.6" x2="88.14" y2="555.6" stroke="#555" stroke-width="0.7"/>
<line x1="90.64" y1="553.6" x2="90.64" y2="555.6" stroke="#555" stroke-width="0.7"/>
<line x1="95.34" y1="553.6" x2="95.34" y2="555.6" stroke="#555" stroke-width="0.7"/>
<line x1="97.55" y1="553.6" x2="97.55" y2="555.6" stroke="#555" stroke-width="0.7"/>
<line x1="99.75" y1="553.6" x2="99.75" y2="555.6" stroke="#555" stroke-width="0.7"/>
<line x1="101.95" y1="553.6" x2="101.95" y2="555.6" stroke="#555" stroke-width="0.7"/>
<line x1="104.16" y1="553.6" x2="104.16" y2="555.6" stroke="#555" stroke-width="0.7"/>
<line x1="106.36" y1="553.6" x2="106.36" y2="555.6" stroke="#555" stroke-width="0.7"/>
<line x1="108.57" y1="553.6" x2="108.57" y2="555.6" stroke="#555" stroke-width="0.7"/>
<line x1="110.77" y1="553.6" x2="110.77" y2="555.6" stroke="#555" stroke-width="0.7"/>
<line x1="123.56" y1="553.6" x2="123.56" y2="555.6" stroke="#555" stroke-width="0.7"/>
<line x1="129.75" y1="553.6" x2="129.75" y2="555.6" stroke="#555" stroke-width="0.7"/>
<line x1="134.14" y1="553.6" x2="134.14" y2="555.6" stroke="#555" stroke-width="0.7"/>
<line x1="137.55" y1="553.6" x2="137.55" y2="555.6" stroke="#555" stroke-width="0.7"/>
<line x1="140.34" y1="553.6" x2="140.34" y2="555.6" stroke="#555" stroke-width="0.7"/>
<line x1="142.69" y1="553.6" x2="142.69" y2="555.6" stroke="#555" stroke-width="0.7"/>
<line x1="144.73" y1="553.6" x2="144.73" y2="555.6" stroke="#555" stroke-width="0.7"/>
<line x1="146.53" y1="553.6" x2="146.53" y2="555.6" stroke="#555" stroke-width="0.7"/>
<line x1="157.33" y1="553.6" x2="157.33" y2="555.6" stroke="#555" stroke-width="0.7"/>
<line x1="162.7" y1="553.6" x2="162.7" y2="555.6" stroke="#555" stroke-width="0.7"/>
<line x1="166.52" y1="553.6" x2="166.52" y2="555.6" stroke="#555" stroke-width="0.7"/>
<line x1="169.47" y1="553.6" x2="169.47" y2="555.6" stroke="#555" stroke-width="0.7"/>
<line x1="171.89" y1="553.6" x2="171.89" y2="555.6" stroke="#555" stroke-width="0.7"/>
<line x1="173.93" y1="553.6" x2="173.93" y2="555.6" stroke="#555" stroke-width="0.7"/>
<line x1="175.7" y1="553.6" x2="175.7" y2="555.6" stroke="#555" stroke-width="0.7"/>
<line x1="177.27" y1="553.6" x2="177.27" y2="555.6" stroke="#555" stroke-width="0.7"/>
<line x1="187.85" y1="553.6" x2="187.85" y2="555.6" stroke="#555" stroke-width="0.7"/>
<line x1="70.66" y1="553.6" x2="70.66" y2="557.2" stroke="#111" stroke-width="0.9"/>
<line x1="112.97" y1="553.6" x2="112.97" y2="557.2" stroke="#111" stroke-width="0.9"/>
<line x1="148.14" y1="553.6" x2="148.14" y2="557.2" stroke="#111" stroke-width="0.9"/>
<line x1="178.66" y1="553.6" x2="178.66" y2="557.2" stroke="#111" stroke-width="0.9"/>
<text x="69.86" y="565" font-size="5.5" fill="#222" text-anchor="start">-10<tspan font-size="85%" dy="-2.4">3</tspan></text>
<text x="93.04" y="565" font-size="5.5" fill="#222" text-anchor="start">0</text>
<text x="112.87" y="565" font-size="5.5" fill="#222" text-anchor="start">10<tspan font-size="85%" dy="-2.4">3</tspan></text>
<text x="148.04" y="565" font-size="5.5" fill="#222" text-anchor="start">10<tspan font-size="85%" dy="-2.4">4</tspan></text>
<text x="178.56" y="565" font-size="5.5" fill="#222" text-anchor="start">10<tspan font-size="85%" dy="-2.4">5</tspan></text>
<rect x="88.14" y="553" width="5.8" height="3" fill="#111" stroke="none" stroke-width="1"/>
<line x1="63.8" y1="553.3" x2="191" y2="553.3" stroke="#b89090" stroke-width="0.8"/>
<path d="M91.68,553.86 C92.05,551.99 93.42,551.31 93.93,542.62 C94.44,533.94 94.47,515.37 94.74,501.75 C95.02,488.12 95.29,471.6 95.56,460.87 C95.83,450.15 96.11,437.37 96.38,437.37 C96.65,437.37 96.86,448.44 97.2,460.87 C97.54,473.31 97.98,499.02 98.42,511.97 C98.87,524.91 99.27,532.41 99.85,538.54 C100.43,544.67 101.05,546.37 101.9,548.76 C102.75,551.14 103.77,551.99 104.96,552.84 C106.15,553.69 108.37,553.69 109.05,553.86" fill="none" stroke="#999" stroke-width="0.8" stroke-dasharray="0.9,0.9"/>
<path d="M89.63,553.86 C89.97,553.35 91.1,552.67 91.68,550.8 C92.26,548.93 92.6,547.39 93.11,542.62 C93.62,537.86 94.2,529.68 94.74,522.19 C95.29,514.69 95.83,506.18 96.38,497.66 C96.92,489.15 97.5,479.27 98.01,471.09 C98.52,462.92 98.97,454.06 99.44,448.61 C99.92,443.16 100.47,440.37 100.87,438.39 C101.28,436.42 101.56,436.08 101.9,436.76 C102.24,437.44 102.61,440.85 102.92,442.48 C103.23,444.12 103.46,446.4 103.74,446.57 C104.01,446.74 104.28,442.82 104.55,443.5 C104.83,444.18 104.96,446.06 105.37,450.66 C105.78,455.25 106.39,463.26 107.01,471.09 C107.62,478.93 108.37,489.15 109.05,497.66 C109.73,506.18 110.41,515.37 111.09,522.19 C111.77,529 112.46,534.28 113.14,538.54 C113.82,542.79 114.33,545.52 115.18,547.73 C116.03,549.95 116.88,550.9 118.25,551.82 C119.61,552.74 121.48,552.91 123.36,553.25 C125.23,553.59 128.47,553.76 129.49,553.86" fill="none" stroke="#111111" stroke-width="0.95" stroke-linejoin="round"/>
<path d="M93.72,553.86 C93.96,553.35 94.64,553.35 95.15,550.8 C95.66,548.24 96.17,545.01 96.79,538.54 C97.4,532.06 98.15,521.51 98.83,511.97 C99.51,502.43 100.19,489.83 100.87,481.31 C101.56,472.8 102.31,466.67 102.92,460.87 C103.53,455.08 104.04,449.97 104.55,446.57 C105.06,443.16 105.58,441.73 105.98,440.44 C106.39,439.14 106.63,438.12 107.01,438.8 C107.38,439.48 107.82,441.53 108.23,444.52 C108.64,447.52 109.05,454.06 109.46,456.79 C109.87,459.51 110.24,457.47 110.68,460.87 C111.13,464.28 111.54,471.09 112.12,477.22 C112.69,483.36 113.48,491.87 114.16,497.66 C114.84,503.45 115.35,506.86 116.2,511.97 C117.05,517.08 118.25,523.89 119.27,528.32 C120.29,532.75 121.31,536.15 122.33,538.54 C123.36,540.92 124.21,541.43 125.4,542.62 C126.59,543.82 128.12,544.67 129.49,545.69 C130.85,546.71 132.21,548.07 133.57,548.76 C134.94,549.44 136.47,549.27 137.66,549.78 C138.85,550.29 139.88,551.14 140.73,551.82 C141.58,552.5 142.43,553.52 142.77,553.86" fill="none" stroke="#ee1c1c" stroke-width="0.95" stroke-linejoin="round"/>
<rect x="145.6" y="430" width="7.8" height="4.6" fill="#fff" stroke="#444" stroke-width="1.1" stroke-dasharray="1.1,1.1"/>
<text x="156.6" y="434.68" font-size="6.6" fill="#111" text-anchor="start" textLength="29.8" lengthAdjust="spacingAndGlyphs">IgG control</text>
<rect x="145.6" y="441.2" width="7.8" height="4.6" fill="#fff" stroke="#111111" stroke-width="1.4"/>
<text x="156.6" y="445.88" font-size="6.6" fill="#111" text-anchor="start" textLength="20.6" lengthAdjust="spacingAndGlyphs">IDH2wt</text>
<rect x="145.6" y="452.3" width="7.8" height="4.6" fill="#fff" stroke="#ee1c1c" stroke-width="1.4"/>
<text x="156.6" y="456.98" font-size="6.6" fill="#111" text-anchor="start" textLength="32.2" lengthAdjust="spacingAndGlyphs">IDH2 R172K</text>
<rect x="215.6" y="427.8" width="126.3" height="125.4" fill="none" stroke="#8e8e8e" stroke-width="1.3"/>
<line x1="211.6" y1="553.2" x2="215.6" y2="553.2" stroke="#111" stroke-width="1"/>
<text x="209.8" y="553.5" font-size="4.9" fill="#222" text-anchor="end">0</text>
<line x1="213.7" y1="547.22" x2="215.6" y2="547.22" stroke="#555" stroke-width="0.8"/>
<line x1="213.7" y1="541.23" x2="215.6" y2="541.23" stroke="#555" stroke-width="0.8"/>
<line x1="213.7" y1="535.25" x2="215.6" y2="535.25" stroke="#555" stroke-width="0.8"/>
<line x1="211.6" y1="529.26" x2="215.6" y2="529.26" stroke="#111" stroke-width="1"/>
<text x="209.8" y="531.66" font-size="4.9" fill="#222" text-anchor="end">20</text>
<line x1="213.7" y1="523.28" x2="215.6" y2="523.28" stroke="#555" stroke-width="0.8"/>
<line x1="213.7" y1="517.29" x2="215.6" y2="517.29" stroke="#555" stroke-width="0.8"/>
<line x1="213.7" y1="511.31" x2="215.6" y2="511.31" stroke="#555" stroke-width="0.8"/>
<line x1="211.6" y1="505.32" x2="215.6" y2="505.32" stroke="#111" stroke-width="1"/>
<text x="209.8" y="507.72" font-size="4.9" fill="#222" text-anchor="end">40</text>
<line x1="213.7" y1="499.34" x2="215.6" y2="499.34" stroke="#555" stroke-width="0.8"/>
<line x1="213.7" y1="493.35" x2="215.6" y2="493.35" stroke="#555" stroke-width="0.8"/>
<line x1="213.7" y1="487.37" x2="215.6" y2="487.37" stroke="#555" stroke-width="0.8"/>
<line x1="211.6" y1="481.38" x2="215.6" y2="481.38" stroke="#111" stroke-width="1"/>
<text x="209.8" y="483.78" font-size="4.9" fill="#222" text-anchor="end">60</text>
<line x1="213.7" y1="475.4" x2="215.6" y2="475.4" stroke="#555" stroke-width="0.8"/>
<line x1="213.7" y1="469.41" x2="215.6" y2="469.41" stroke="#555" stroke-width="0.8"/>
<line x1="213.7" y1="463.43" x2="215.6" y2="463.43" stroke="#555" stroke-width="0.8"/>
<line x1="211.6" y1="457.44" x2="215.6" y2="457.44" stroke="#111" stroke-width="1"/>
<text x="209.8" y="459.84" font-size="4.9" fill="#222" text-anchor="end">80</text>
<line x1="213.7" y1="451.46" x2="215.6" y2="451.46" stroke="#555" stroke-width="0.8"/>
<line x1="213.7" y1="445.47" x2="215.6" y2="445.47" stroke="#555" stroke-width="0.8"/>
<line x1="213.7" y1="439.49" x2="215.6" y2="439.49" stroke="#555" stroke-width="0.8"/>
<line x1="211.6" y1="433.5" x2="215.6" y2="433.5" stroke="#111" stroke-width="1"/>
<text x="209.8" y="435.9" font-size="4.9" fill="#222" text-anchor="end">100</text>
<line x1="225.56" y1="553.2" x2="225.56" y2="555.2" stroke="#555" stroke-width="0.7"/>
<line x1="228.01" y1="553.2" x2="228.01" y2="555.2" stroke="#555" stroke-width="0.7"/>
<line x1="230.46" y1="553.2" x2="230.46" y2="555.2" stroke="#555" stroke-width="0.7"/>
<line x1="232.91" y1="553.2" x2="232.91" y2="555.2" stroke="#555" stroke-width="0.7"/>
<line x1="235.36" y1="553.2" x2="235.36" y2="555.2" stroke="#555" stroke-width="0.7"/>
<line x1="237.81" y1="553.2" x2="237.81" y2="555.2" stroke="#555" stroke-width="0.7"/>
<line x1="240.26" y1="553.2" x2="240.26" y2="555.2" stroke="#555" stroke-width="0.7"/>
<line x1="242.71" y1="553.2" x2="242.71" y2="555.2" stroke="#555" stroke-width="0.7"/>
<line x1="247.32" y1="553.2" x2="247.32" y2="555.2" stroke="#555" stroke-width="0.7"/>
<line x1="249.48" y1="553.2" x2="249.48" y2="555.2" stroke="#555" stroke-width="0.7"/>
<line x1="251.64" y1="553.2" x2="251.64" y2="555.2" stroke="#555" stroke-width="0.7"/>
<line x1="253.8" y1="553.2" x2="253.8" y2="555.2" stroke="#555" stroke-width="0.7"/>
<line x1="255.96" y1="553.2" x2="255.96" y2="555.2" stroke="#555" stroke-width="0.7"/>
<line x1="258.12" y1="553.2" x2="258.12" y2="555.2" stroke="#555" stroke-width="0.7"/>
<line x1="260.28" y1="553.2" x2="260.28" y2="555.2" stroke="#555" stroke-width="0.7"/>
<line x1="262.44" y1="553.2" x2="262.44" y2="555.2" stroke="#555" stroke-width="0.7"/>
<line x1="274.98" y1="553.2" x2="274.98" y2="555.2" stroke="#555" stroke-width="0.7"/>
<line x1="281.06" y1="553.2" x2="281.06" y2="555.2" stroke="#555" stroke-width="0.7"/>
<line x1="285.36" y1="553.2" x2="285.36" y2="555.2" stroke="#555" stroke-width="0.7"/>
<line x1="288.7" y1="553.2" x2="288.7" y2="555.2" stroke="#555" stroke-width="0.7"/>
<line x1="291.43" y1="553.2" x2="291.43" y2="555.2" stroke="#555" stroke-width="0.7"/>
<line x1="293.74" y1="553.2" x2="293.74" y2="555.2" stroke="#555" stroke-width="0.7"/>
<line x1="295.74" y1="553.2" x2="295.74" y2="555.2" stroke="#555" stroke-width="0.7"/>
<line x1="297.51" y1="553.2" x2="297.51" y2="555.2" stroke="#555" stroke-width="0.7"/>
<line x1="308.1" y1="553.2" x2="308.1" y2="555.2" stroke="#555" stroke-width="0.7"/>
<line x1="313.37" y1="553.2" x2="313.37" y2="555.2" stroke="#555" stroke-width="0.7"/>
<line x1="317.11" y1="553.2" x2="317.11" y2="555.2" stroke="#555" stroke-width="0.7"/>
<line x1="320.01" y1="553.2" x2="320.01" y2="555.2" stroke="#555" stroke-width="0.7"/>
<line x1="322.38" y1="553.2" x2="322.38" y2="555.2" stroke="#555" stroke-width="0.7"/>
<line x1="324.38" y1="553.2" x2="324.38" y2="555.2" stroke="#555" stroke-width="0.7"/>
<line x1="326.12" y1="553.2" x2="326.12" y2="555.2" stroke="#555" stroke-width="0.7"/>
<line x1="327.65" y1="553.2" x2="327.65" y2="555.2" stroke="#555" stroke-width="0.7"/>
<line x1="338.03" y1="553.2" x2="338.03" y2="555.2" stroke="#555" stroke-width="0.7"/>
<line x1="223.11" y1="553.2" x2="223.11" y2="556.8" stroke="#111" stroke-width="0.9"/>
<line x1="264.6" y1="553.2" x2="264.6" y2="556.8" stroke="#111" stroke-width="0.9"/>
<line x1="299.08" y1="553.2" x2="299.08" y2="556.8" stroke="#111" stroke-width="0.9"/>
<line x1="329.02" y1="553.2" x2="329.02" y2="556.8" stroke="#111" stroke-width="0.9"/>
<text x="222.31" y="564.6" font-size="5.5" fill="#222" text-anchor="start">-10<tspan font-size="85%" dy="-2.4">3</tspan></text>
<text x="245.05" y="564.6" font-size="5.5" fill="#222" text-anchor="start">0</text>
<text x="264.5" y="564.6" font-size="5.5" fill="#222" text-anchor="start">10<tspan font-size="85%" dy="-2.4">3</tspan></text>
<text x="298.98" y="564.6" font-size="5.5" fill="#222" text-anchor="start">10<tspan font-size="85%" dy="-2.4">4</tspan></text>
<text x="328.92" y="564.6" font-size="5.5" fill="#222" text-anchor="start">10<tspan font-size="85%" dy="-2.4">5</tspan></text>
<rect x="240.15" y="552.6" width="5.8" height="3" fill="#111" stroke="none" stroke-width="1"/>
<line x1="216.4" y1="552.9" x2="341.1" y2="552.9" stroke="#a8a078" stroke-width="0.8"/>
<path d="M239.98,553.82 C240.39,553.79 241.63,554.36 242.45,553.64 C243.28,552.92 244.12,552.95 244.95,549.49 C245.78,546.03 246.75,538.98 247.44,532.9 C248.13,526.81 248.54,521.84 249.1,512.99 C249.65,504.14 250.25,489.48 250.75,479.8 C251.25,470.12 251.72,461.25 252.08,454.89 C252.44,448.52 252.67,444.66 252.92,441.62 C253.17,438.58 253.32,436.64 253.59,436.64 C253.87,436.64 254.22,439.96 254.57,441.62 C254.93,443.28 255.41,446.04 255.74,446.59 C256.07,447.14 256.3,444.38 256.58,444.93 C256.85,445.49 257.06,446.88 257.39,449.92 C257.72,452.97 258.14,457.4 258.56,463.2 C258.97,469.01 259.44,477.85 259.89,484.77 C260.33,491.68 260.8,498.33 261.22,504.69 C261.63,511.06 261.99,517.69 262.38,522.94 C262.77,528.2 263.13,532.35 263.55,536.23 C263.96,540.1 264.24,543.83 264.87,546.18 C265.51,548.53 266.26,549.22 267.37,550.33 C268.47,551.44 270,552.24 271.52,552.82 C273.04,553.4 275.66,553.66 276.48,553.82" fill="none" stroke="#111111" stroke-width="0.95" stroke-linejoin="round"/>
<path d="M244.95,553.82 C245.22,553.79 246.11,554.91 246.6,553.64 C247.1,552.37 247.43,550.74 247.93,546.18 C248.43,541.62 249.05,534 249.61,526.25 C250.16,518.51 250.66,508.83 251.26,499.71 C251.87,490.58 252.58,479.52 253.25,471.5 C253.91,463.48 254.56,456.56 255.25,451.58 C255.94,446.6 256.84,443.7 257.39,441.62 C257.95,439.55 258.14,438.58 258.56,439.13 C258.97,439.68 259.44,442.31 259.89,444.93 C260.33,447.56 260.88,452.4 261.22,454.89 C261.55,457.38 261.61,457.66 261.89,459.87 C262.17,462.09 262.43,464.02 262.87,468.17 C263.31,472.32 263.94,478.95 264.55,484.77 C265.16,490.58 265.92,498.06 266.53,503.04 C267.14,508.02 267.58,510.78 268.19,514.65 C268.79,518.51 269.5,522.93 270.19,526.25 C270.88,529.57 271.56,532.08 272.33,534.57 C273.11,537.06 273.86,539.4 274.83,541.19 C275.79,542.99 277.03,544.24 278.14,545.34 C279.25,546.45 280.36,547.14 281.47,547.84 C282.58,548.53 283.67,549.27 284.78,549.49 C285.89,549.71 287,548.75 288.11,549.16 C289.22,549.58 290.59,551.24 291.42,551.98 C292.25,552.73 292.25,553.33 293.08,553.64 C293.91,553.95 295.85,553.79 296.41,553.82" fill="none" stroke="#ee1c1c" stroke-width="0.95" stroke-linejoin="round"/>
<path d="M239.98,553.82 C240.39,553.79 241.76,554.91 242.45,553.64 C243.15,552.37 243.58,550.19 244.13,546.18 C244.69,542.17 245.23,534.29 245.79,529.59 C246.34,524.88 246.89,520.31 247.44,517.96 C247.99,515.61 248.63,516.17 249.1,515.48 C249.57,514.79 249.85,515.88 250.26,513.81 C250.68,511.73 251.09,508.43 251.59,503.04 C252.09,497.64 252.69,488.65 253.25,481.46 C253.8,474.26 254.37,465.41 254.92,459.87 C255.48,454.34 256.08,451.17 256.58,448.26 C257.07,445.36 257.57,443.69 257.91,442.44 C258.24,441.19 258.28,440.09 258.56,440.78 C258.84,441.48 259.2,443.68 259.56,446.59 C259.92,449.49 260.26,452.96 260.73,458.22 C261.2,463.47 261.83,471.76 262.38,478.12 C262.93,484.49 263.48,490.58 264.04,496.39 C264.59,502.21 265.14,508.01 265.69,512.99 C266.25,517.97 266.73,522.11 267.37,526.25 C268,530.4 268.88,535.39 269.51,537.88 C270.15,540.37 270.42,540.23 271.17,541.19 C271.91,542.16 272.96,542.86 273.99,543.69 C275.01,544.52 276.21,545.43 277.32,546.18 C278.43,546.93 279.39,547.75 280.63,548.16 C281.87,548.58 283.53,548.31 284.78,548.67 C286.03,549.03 286.86,549.78 288.11,550.33 C289.36,550.88 290.6,551.43 292.26,551.98 C293.92,552.54 295.99,553.33 298.06,553.64 C300.14,553.95 303.6,553.79 304.71,553.82" fill="none" stroke="#1ec81e" stroke-width="0.95" stroke-linejoin="round"/>
<rect x="276.8" y="431.7" width="7.3" height="4.6" fill="#fff" stroke="#111111" stroke-width="1.4"/>
<text x="285.5" y="436.38" font-size="6.6" fill="#111" text-anchor="start" textLength="20.8" lengthAdjust="spacingAndGlyphs">IDH2wt</text>
<rect x="276.8" y="441.9" width="7.3" height="4.6" fill="#fff" stroke="#ee1c1c" stroke-width="1.4"/>
<text x="285.5" y="446.58" font-size="6.6" fill="#111" text-anchor="start" textLength="32.6" lengthAdjust="spacingAndGlyphs">IDH2 R172K</text>
<rect x="276.8" y="453.1" width="7.3" height="4.6" fill="#fff" stroke="#1ec81e" stroke-width="1.4"/>
<text x="285.5" y="457.78" font-size="6.6" fill="#111" text-anchor="start" textLength="51" lengthAdjust="spacingAndGlyphs">IDH2 R172K + 2Cda</text>
<rect x="367.3" y="427.8" width="125.3" height="125.1" fill="none" stroke="#8e8e8e" stroke-width="1.3"/>
<line x1="363.3" y1="552.9" x2="367.3" y2="552.9" stroke="#111" stroke-width="1"/>
<text x="361.5" y="553.2" font-size="4.9" fill="#222" text-anchor="end">0</text>
<line x1="365.4" y1="546.93" x2="367.3" y2="546.93" stroke="#555" stroke-width="0.8"/>
<line x1="365.4" y1="540.96" x2="367.3" y2="540.96" stroke="#555" stroke-width="0.8"/>
<line x1="365.4" y1="534.99" x2="367.3" y2="534.99" stroke="#555" stroke-width="0.8"/>
<line x1="363.3" y1="529.02" x2="367.3" y2="529.02" stroke="#111" stroke-width="1"/>
<text x="361.5" y="531.42" font-size="4.9" fill="#222" text-anchor="end">20</text>
<line x1="365.4" y1="523.05" x2="367.3" y2="523.05" stroke="#555" stroke-width="0.8"/>
<line x1="365.4" y1="517.08" x2="367.3" y2="517.08" stroke="#555" stroke-width="0.8"/>
<line x1="365.4" y1="511.11" x2="367.3" y2="511.11" stroke="#555" stroke-width="0.8"/>
<line x1="363.3" y1="505.14" x2="367.3" y2="505.14" stroke="#111" stroke-width="1"/>
<text x="361.5" y="507.54" font-size="4.9" fill="#222" text-anchor="end">40</text>
<line x1="365.4" y1="499.17" x2="367.3" y2="499.17" stroke="#555" stroke-width="0.8"/>
<line x1="365.4" y1="493.2" x2="367.3" y2="493.2" stroke="#555" stroke-width="0.8"/>
<line x1="365.4" y1="487.23" x2="367.3" y2="487.23" stroke="#555" stroke-width="0.8"/>
<line x1="363.3" y1="481.26" x2="367.3" y2="481.26" stroke="#111" stroke-width="1"/>
<text x="361.5" y="483.66" font-size="4.9" fill="#222" text-anchor="end">60</text>
<line x1="365.4" y1="475.29" x2="367.3" y2="475.29" stroke="#555" stroke-width="0.8"/>
<line x1="365.4" y1="469.32" x2="367.3" y2="469.32" stroke="#555" stroke-width="0.8"/>
<line x1="365.4" y1="463.35" x2="367.3" y2="463.35" stroke="#555" stroke-width="0.8"/>
<line x1="363.3" y1="457.38" x2="367.3" y2="457.38" stroke="#111" stroke-width="1"/>
<text x="361.5" y="459.78" font-size="4.9" fill="#222" text-anchor="end">80</text>
<line x1="365.4" y1="451.41" x2="367.3" y2="451.41" stroke="#555" stroke-width="0.8"/>
<line x1="365.4" y1="445.44" x2="367.3" y2="445.44" stroke="#555" stroke-width="0.8"/>
<line x1="365.4" y1="439.47" x2="367.3" y2="439.47" stroke="#555" stroke-width="0.8"/>
<line x1="363.3" y1="433.5" x2="367.3" y2="433.5" stroke="#111" stroke-width="1"/>
<text x="361.5" y="435.9" font-size="4.9" fill="#222" text-anchor="end">100</text>
<line x1="377.18" y1="552.9" x2="377.18" y2="554.9" stroke="#555" stroke-width="0.7"/>
<line x1="379.61" y1="552.9" x2="379.61" y2="554.9" stroke="#555" stroke-width="0.7"/>
<line x1="382.04" y1="552.9" x2="382.04" y2="554.9" stroke="#555" stroke-width="0.7"/>
<line x1="384.47" y1="552.9" x2="384.47" y2="554.9" stroke="#555" stroke-width="0.7"/>
<line x1="386.9" y1="552.9" x2="386.9" y2="554.9" stroke="#555" stroke-width="0.7"/>
<line x1="389.33" y1="552.9" x2="389.33" y2="554.9" stroke="#555" stroke-width="0.7"/>
<line x1="391.76" y1="552.9" x2="391.76" y2="554.9" stroke="#555" stroke-width="0.7"/>
<line x1="394.19" y1="552.9" x2="394.19" y2="554.9" stroke="#555" stroke-width="0.7"/>
<line x1="398.76" y1="552.9" x2="398.76" y2="554.9" stroke="#555" stroke-width="0.7"/>
<line x1="400.91" y1="552.9" x2="400.91" y2="554.9" stroke="#555" stroke-width="0.7"/>
<line x1="403.05" y1="552.9" x2="403.05" y2="554.9" stroke="#555" stroke-width="0.7"/>
<line x1="405.2" y1="552.9" x2="405.2" y2="554.9" stroke="#555" stroke-width="0.7"/>
<line x1="407.34" y1="552.9" x2="407.34" y2="554.9" stroke="#555" stroke-width="0.7"/>
<line x1="409.48" y1="552.9" x2="409.48" y2="554.9" stroke="#555" stroke-width="0.7"/>
<line x1="411.63" y1="552.9" x2="411.63" y2="554.9" stroke="#555" stroke-width="0.7"/>
<line x1="413.77" y1="552.9" x2="413.77" y2="554.9" stroke="#555" stroke-width="0.7"/>
<line x1="426.21" y1="552.9" x2="426.21" y2="554.9" stroke="#555" stroke-width="0.7"/>
<line x1="432.24" y1="552.9" x2="432.24" y2="554.9" stroke="#555" stroke-width="0.7"/>
<line x1="436.51" y1="552.9" x2="436.51" y2="554.9" stroke="#555" stroke-width="0.7"/>
<line x1="439.83" y1="552.9" x2="439.83" y2="554.9" stroke="#555" stroke-width="0.7"/>
<line x1="442.53" y1="552.9" x2="442.53" y2="554.9" stroke="#555" stroke-width="0.7"/>
<line x1="444.82" y1="552.9" x2="444.82" y2="554.9" stroke="#555" stroke-width="0.7"/>
<line x1="446.81" y1="552.9" x2="446.81" y2="554.9" stroke="#555" stroke-width="0.7"/>
<line x1="448.56" y1="552.9" x2="448.56" y2="554.9" stroke="#555" stroke-width="0.7"/>
<line x1="459.06" y1="552.9" x2="459.06" y2="554.9" stroke="#555" stroke-width="0.7"/>
<line x1="464.29" y1="552.9" x2="464.29" y2="554.9" stroke="#555" stroke-width="0.7"/>
<line x1="468" y1="552.9" x2="468" y2="554.9" stroke="#555" stroke-width="0.7"/>
<line x1="470.88" y1="552.9" x2="470.88" y2="554.9" stroke="#555" stroke-width="0.7"/>
<line x1="473.23" y1="552.9" x2="473.23" y2="554.9" stroke="#555" stroke-width="0.7"/>
<line x1="475.22" y1="552.9" x2="475.22" y2="554.9" stroke="#555" stroke-width="0.7"/>
<line x1="476.94" y1="552.9" x2="476.94" y2="554.9" stroke="#555" stroke-width="0.7"/>
<line x1="478.46" y1="552.9" x2="478.46" y2="554.9" stroke="#555" stroke-width="0.7"/>
<line x1="488.76" y1="552.9" x2="488.76" y2="554.9" stroke="#555" stroke-width="0.7"/>
<line x1="374.76" y1="552.9" x2="374.76" y2="556.5" stroke="#111" stroke-width="0.9"/>
<line x1="415.92" y1="552.9" x2="415.92" y2="556.5" stroke="#111" stroke-width="0.9"/>
<line x1="450.12" y1="552.9" x2="450.12" y2="556.5" stroke="#111" stroke-width="0.9"/>
<line x1="479.82" y1="552.9" x2="479.82" y2="556.5" stroke="#111" stroke-width="0.9"/>
<text x="373.96" y="564.3" font-size="5.5" fill="#222" text-anchor="start">-10<tspan font-size="85%" dy="-2.4">3</tspan></text>
<text x="396.52" y="564.3" font-size="5.5" fill="#222" text-anchor="start">0</text>
<text x="415.82" y="564.3" font-size="5.5" fill="#222" text-anchor="start">10<tspan font-size="85%" dy="-2.4">3</tspan></text>
<text x="450.02" y="564.3" font-size="5.5" fill="#222" text-anchor="start">10<tspan font-size="85%" dy="-2.4">4</tspan></text>
<text x="479.72" y="564.3" font-size="5.5" fill="#222" text-anchor="start">10<tspan font-size="85%" dy="-2.4">5</tspan></text>
<rect x="391.62" y="552.3" width="5.8" height="3" fill="#111" stroke="none" stroke-width="1"/>
<line x1="368.1" y1="552.6" x2="491.8" y2="552.6" stroke="#a8a078" stroke-width="0.8"/>
<path d="M390.66,553.01 C391.21,552.97 393.02,553.94 394.01,552.8 C395,551.67 395.76,551.45 396.6,546.2 C397.45,540.95 398.05,529.61 399.1,521.31 C400.15,513.01 402.06,506.08 402.9,496.39 C403.73,486.71 403.82,471.5 404.1,463.2 C404.39,454.91 404.41,451.04 404.59,446.61 C404.78,442.17 404.82,436.6 405.21,436.6 C405.59,436.6 406.51,445.38 406.9,446.61 C407.3,447.84 407.3,441.23 407.6,443.99 C407.9,446.76 408.27,454.47 408.7,463.2 C409.13,471.94 409.31,485.33 410.19,496.39 C411.08,507.46 412.79,521.3 414,529.61 C415.2,537.91 415.61,542.33 417.41,546.2 C419.21,550.07 421.87,551.67 424.81,552.8 C427.74,553.94 433.31,552.97 435.01,553.01" fill="none" stroke="#111111" stroke-width="0.95" stroke-linejoin="round"/>
<path d="M396.99,553.01 C397.34,552.97 398.33,556.7 399.1,552.8 C399.86,548.9 400.67,539.01 401.59,529.61 C402.51,520.2 403.63,507.46 404.59,496.39 C405.56,485.33 406.69,471.61 407.39,463.2 C408.1,454.8 408.34,449.97 408.8,445.96 C409.27,441.94 409.69,439.11 410.19,439.11 C410.69,439.11 411.34,443.32 411.81,445.96 C412.28,448.6 412.63,452.49 412.99,454.95 C413.36,457.4 413.13,453.78 414,460.69 C414.86,467.6 416.4,484.91 418.21,496.39 C420.01,507.88 422.59,521.59 424.81,529.61 C427.02,537.62 428.86,541.19 431.49,544.5 C434.12,547.82 438.54,548.11 440.6,549.49 C442.67,550.87 442.34,552.22 443.9,552.8 C445.45,553.39 448.92,552.97 449.92,553.01" fill="none" stroke="#ee1c1c" stroke-width="0.95" stroke-linejoin="round"/>
<path d="M390.66,553.01 C391.13,552.97 392.61,554.97 393.5,552.8 C394.39,550.64 395.19,548.31 395.99,540.01 C396.79,531.71 397.58,506.95 398.3,503 C399.02,499.04 399.6,517.4 400.3,516.3 C401,515.2 401.89,505.24 402.51,496.39 C403.13,487.55 403.59,472.6 404,463.2 C404.42,453.81 404.64,444.58 405,440.01 C405.37,435.44 405.72,434.7 406.19,435.8 C406.66,436.9 407.23,442.04 407.8,446.61 C408.37,451.18 408.97,454.91 409.6,463.2 C410.24,471.5 410.45,485.33 411.6,496.39 C412.76,507.46 414.86,521.3 416.51,529.61 C418.16,537.91 419,542.5 421.5,546.2 C423.99,549.9 427.57,550.69 431.49,551.82 C435.41,552.96 442.75,552.81 445,553.01" fill="none" stroke="#1ec81e" stroke-width="0.95" stroke-linejoin="round"/>
<rect x="428.8" y="431.2" width="7.3" height="4.6" fill="#fff" stroke="#111111" stroke-width="1.4"/>
<text x="437.5" y="435.88" font-size="6.6" fill="#111" text-anchor="start" textLength="20.8" lengthAdjust="spacingAndGlyphs">IDH2wt</text>
<rect x="428.8" y="441.7" width="7.3" height="4.6" fill="#fff" stroke="#ee1c1c" stroke-width="1.4"/>
<text x="437.5" y="446.38" font-size="6.6" fill="#111" text-anchor="start" textLength="32.6" lengthAdjust="spacingAndGlyphs">IDH2 R172K</text>
<rect x="428.8" y="453.1" width="7.3" height="4.6" fill="#fff" stroke="#1ec81e" stroke-width="1.4"/>
<text x="437.5" y="457.78" font-size="6.6" fill="#111" text-anchor="start" textLength="51" lengthAdjust="spacingAndGlyphs">IDH2 R172K + 2Cda</text>
<polyline points="48.1,88 48.1,175.5 123.7,175.5" fill="none" stroke="#333" stroke-width="1.0"/>
<polyline points="45.1,91.1 48.1,87.5 51.1,91.1" fill="none" stroke="#333" stroke-width="1.0"/>
<polyline points="120.6,172.5 124.2,175.5 120.6,178.5" fill="none" stroke="#333" stroke-width="1.0"/>
<text x="0" y="0" font-size="9.7" fill="#111" transform="translate(42.0,174.2) rotate(-90)" textLength="84.1" lengthAdjust="spacingAndGlyphs">relative cell number</text>
<text x="69.9" y="186" font-size="9" fill="#111" text-anchor="start" textLength="25.4" lengthAdjust="spacingAndGlyphs">APC-A</text>
<polyline points="44.2,459.7 44.2,576.6 134.2,576.6" fill="none" stroke="#333" stroke-width="1.0"/>
<polyline points="41.2,462.8 44.2,459.2 47.2,462.8" fill="none" stroke="#333" stroke-width="1.0"/>
<polyline points="131.1,573.6 134.7,576.6 131.1,579.6" fill="none" stroke="#333" stroke-width="1.0"/>
<text x="0" y="0" font-size="9.7" fill="#111" transform="translate(36.5,566.0) rotate(-90)" textLength="83.6" lengthAdjust="spacingAndGlyphs">relative cell number</text>
<text x="72.3" y="590.1" font-size="9" fill="#111" text-anchor="start" textLength="25.6" lengthAdjust="spacingAndGlyphs">APC-A</text>
<text x="80.7" y="625" font-size="10.1" fill="#111" text-anchor="start" textLength="57.6" lengthAdjust="spacingAndGlyphs">IDH2 R140Q</text>
<text x="248.7" y="624.6" font-size="10.1" fill="#111" text-anchor="start" textLength="56.3" lengthAdjust="spacingAndGlyphs">IDH2 R172K</text>
<text x="437.6" y="629.4" font-size="10.1" fill="#111" text-anchor="start" textLength="58.4" lengthAdjust="spacingAndGlyphs">IDH2 R140Q</text>
<text x="605.4" y="629.3" font-size="10.1" fill="#111" text-anchor="start" textLength="56.4" lengthAdjust="spacingAndGlyphs">IDH2 R172K</text>
<line x1="28.2" y1="627.2" x2="28.2" y2="758.7" stroke="#333" stroke-width="1.1"/>
<line x1="25.7" y1="758.3" x2="28.2" y2="758.3" stroke="#333" stroke-width="1"/>
<text x="21.8" y="760.4" font-size="6.1" fill="#222" text-anchor="end">0</text>
<line x1="25.7" y1="743.78" x2="28.2" y2="743.78" stroke="#333" stroke-width="1"/>
<text x="21.8" y="745.88" font-size="6.1" fill="#222" text-anchor="end">20</text>
<line x1="25.7" y1="729.26" x2="28.2" y2="729.26" stroke="#333" stroke-width="1"/>
<text x="21.8" y="731.36" font-size="6.1" fill="#222" text-anchor="end">40</text>
<line x1="25.7" y1="714.73" x2="28.2" y2="714.73" stroke="#333" stroke-width="1"/>
<text x="21.8" y="716.83" font-size="6.1" fill="#222" text-anchor="end">60</text>
<line x1="25.7" y1="700.21" x2="28.2" y2="700.21" stroke="#333" stroke-width="1"/>
<text x="21.8" y="702.31" font-size="6.1" fill="#222" text-anchor="end">80</text>
<line x1="25.7" y1="685.69" x2="28.2" y2="685.69" stroke="#333" stroke-width="1"/>
<text x="21.8" y="687.79" font-size="6.1" fill="#222" text-anchor="end">100</text>
<line x1="25.7" y1="671.17" x2="28.2" y2="671.17" stroke="#333" stroke-width="1"/>
<text x="21.8" y="673.27" font-size="6.1" fill="#222" text-anchor="end">120</text>
<line x1="25.7" y1="656.64" x2="28.2" y2="656.64" stroke="#333" stroke-width="1"/>
<text x="21.8" y="658.74" font-size="6.1" fill="#222" text-anchor="end">140</text>
<line x1="25.7" y1="642.12" x2="28.2" y2="642.12" stroke="#333" stroke-width="1"/>
<text x="21.8" y="644.22" font-size="6.1" fill="#222" text-anchor="end">160</text>
<line x1="25.7" y1="627.6" x2="28.2" y2="627.6" stroke="#333" stroke-width="1"/>
<text x="21.8" y="629.7" font-size="6.1" fill="#222" text-anchor="end">180</text>
<polyline points="41.4,758.3 41.4,686.19 57.2,686.19 57.2,758.3" fill="#fff" stroke="#222" stroke-width="1.0"/>
<line x1="41.9" y1="757.8" x2="56.7" y2="757.8" stroke="#888" stroke-width="1"/>
<rect x="81.8" y="729.98" width="18" height="28.32" fill="#000" stroke="none" stroke-width="1"/>
<rect x="124.3" y="719.09" width="17.2" height="39.21" fill="#000" stroke="none" stroke-width="1"/>
<line x1="132.9" y1="714.73" x2="132.9" y2="719.09" stroke="#555" stroke-width="0.9"/>
<line x1="131.3" y1="714.73" x2="134.5" y2="714.73" stroke="#555" stroke-width="0.9"/>
<rect x="166.8" y="701.54" width="16" height="56.76" fill="#d9d9d9" stroke="#808080" stroke-width="1.2"/>
<line x1="174.8" y1="690.77" x2="174.8" y2="711.1" stroke="#555" stroke-width="0.9"/>
<line x1="173.2" y1="690.77" x2="176.4" y2="690.77" stroke="#555" stroke-width="0.9"/>
<line x1="173.2" y1="711.1" x2="176.4" y2="711.1" stroke="#555" stroke-width="0.9"/>
<polyline points="49.3,677.7 49.3,666.2 132.6,666.2 132.6,700.4" fill="none" stroke="#444" stroke-width="0.9"/>
<text x="109.7" y="667.6" font-size="9.4" fill="#000" text-anchor="middle">**</text>
<polyline points="49.3,677.7 49.3,675.5 91,675.5 91,715.6" fill="none" stroke="#444" stroke-width="0.9"/>
<text x="68.6" y="676.8" font-size="9.4" fill="#000" text-anchor="middle">***</text>
<line x1="218.8" y1="628.1" x2="218.8" y2="758.5" stroke="#333" stroke-width="1.1"/>
<line x1="216.3" y1="758.1" x2="218.8" y2="758.1" stroke="#333" stroke-width="1"/>
<text x="212.4" y="760.2" font-size="6.1" fill="#222" text-anchor="end">0</text>
<line x1="216.3" y1="743.7" x2="218.8" y2="743.7" stroke="#333" stroke-width="1"/>
<text x="212.4" y="745.8" font-size="6.1" fill="#222" text-anchor="end">20</text>
<line x1="216.3" y1="729.3" x2="218.8" y2="729.3" stroke="#333" stroke-width="1"/>
<text x="212.4" y="731.4" font-size="6.1" fill="#222" text-anchor="end">40</text>
<line x1="216.3" y1="714.9" x2="218.8" y2="714.9" stroke="#333" stroke-width="1"/>
<text x="212.4" y="717" font-size="6.1" fill="#222" text-anchor="end">60</text>
<line x1="216.3" y1="700.5" x2="218.8" y2="700.5" stroke="#333" stroke-width="1"/>
<text x="212.4" y="702.6" font-size="6.1" fill="#222" text-anchor="end">80</text>
<line x1="216.3" y1="686.1" x2="218.8" y2="686.1" stroke="#333" stroke-width="1"/>
<text x="212.4" y="688.2" font-size="6.1" fill="#222" text-anchor="end">100</text>
<line x1="216.3" y1="671.7" x2="218.8" y2="671.7" stroke="#333" stroke-width="1"/>
<text x="212.4" y="673.8" font-size="6.1" fill="#222" text-anchor="end">120</text>
<line x1="216.3" y1="657.3" x2="218.8" y2="657.3" stroke="#333" stroke-width="1"/>
<text x="212.4" y="659.4" font-size="6.1" fill="#222" text-anchor="end">140</text>
<line x1="216.3" y1="642.9" x2="218.8" y2="642.9" stroke="#333" stroke-width="1"/>
<text x="212.4" y="645" font-size="6.1" fill="#222" text-anchor="end">160</text>
<line x1="216.3" y1="628.5" x2="218.8" y2="628.5" stroke="#333" stroke-width="1"/>
<text x="212.4" y="630.6" font-size="6.1" fill="#222" text-anchor="end">180</text>
<polyline points="230.9,758.1 230.9,686.6 245.4,686.6 245.4,758.1" fill="#fff" stroke="#222" stroke-width="1.0"/>
<line x1="231.4" y1="757.6" x2="244.9" y2="757.6" stroke="#333" stroke-width="1"/>
<rect x="269.3" y="722.1" width="15.7" height="36" fill="#000" stroke="none" stroke-width="1"/>
<line x1="277.15" y1="707.7" x2="277.15" y2="722.1" stroke="#555" stroke-width="0.9"/>
<line x1="275.55" y1="707.7" x2="278.75" y2="707.7" stroke="#555" stroke-width="0.9"/>
<rect x="308.5" y="735.78" width="16.3" height="22.32" fill="#000" stroke="none" stroke-width="1"/>
<line x1="316.65" y1="723.54" x2="316.65" y2="735.78" stroke="#555" stroke-width="0.9"/>
<line x1="315.05" y1="723.54" x2="318.25" y2="723.54" stroke="#555" stroke-width="0.9"/>
<polyline points="238.6,679.3 238.6,668.5 317.2,668.5 317.2,708.5" fill="none" stroke="#444" stroke-width="0.9"/>
<text x="295.2" y="669.8" font-size="9.4" fill="#000" text-anchor="middle">*</text>
<polyline points="238.6,679.3 238.6,678.2 277.3,678.2 277.3,695.8" fill="none" stroke="#444" stroke-width="0.9"/>
<text x="258" y="679.4" font-size="9.4" fill="#000" text-anchor="middle">*</text>
<line x1="386.7" y1="629.2" x2="386.7" y2="758.5" stroke="#333" stroke-width="1.1"/>
<line x1="384.2" y1="758.1" x2="386.7" y2="758.1" stroke="#333" stroke-width="1"/>
<text x="380.3" y="760.2" font-size="6.1" fill="#222" text-anchor="end">0</text>
<line x1="384.2" y1="743.82" x2="386.7" y2="743.82" stroke="#333" stroke-width="1"/>
<text x="380.3" y="745.92" font-size="6.1" fill="#222" text-anchor="end">20</text>
<line x1="384.2" y1="729.54" x2="386.7" y2="729.54" stroke="#333" stroke-width="1"/>
<text x="380.3" y="731.64" font-size="6.1" fill="#222" text-anchor="end">40</text>
<line x1="384.2" y1="715.27" x2="386.7" y2="715.27" stroke="#333" stroke-width="1"/>
<text x="380.3" y="717.37" font-size="6.1" fill="#222" text-anchor="end">60</text>
<line x1="384.2" y1="700.99" x2="386.7" y2="700.99" stroke="#333" stroke-width="1"/>
<text x="380.3" y="703.09" font-size="6.1" fill="#222" text-anchor="end">80</text>
<line x1="384.2" y1="686.71" x2="386.7" y2="686.71" stroke="#333" stroke-width="1"/>
<text x="380.3" y="688.81" font-size="6.1" fill="#222" text-anchor="end">100</text>
<line x1="384.2" y1="672.43" x2="386.7" y2="672.43" stroke="#333" stroke-width="1"/>
<text x="380.3" y="674.53" font-size="6.1" fill="#222" text-anchor="end">120</text>
<line x1="384.2" y1="658.16" x2="386.7" y2="658.16" stroke="#333" stroke-width="1"/>
<text x="380.3" y="660.26" font-size="6.1" fill="#222" text-anchor="end">140</text>
<line x1="384.2" y1="643.88" x2="386.7" y2="643.88" stroke="#333" stroke-width="1"/>
<text x="380.3" y="645.98" font-size="6.1" fill="#222" text-anchor="end">160</text>
<line x1="384.2" y1="629.6" x2="386.7" y2="629.6" stroke="#333" stroke-width="1"/>
<text x="380.3" y="631.7" font-size="6.1" fill="#222" text-anchor="end">180</text>
<polyline points="400.1,758.1 400.1,687.21 416.1,687.21 416.1,758.1" fill="#fff" stroke="#222" stroke-width="1.0"/>
<line x1="400.6" y1="757.6" x2="415.6" y2="757.6" stroke="#bbb" stroke-width="1"/>
<rect x="441.4" y="686" width="17.5" height="72.1" fill="#000" stroke="none" stroke-width="1"/>
<line x1="450.15" y1="683.14" x2="450.15" y2="686" stroke="#555" stroke-width="0.9"/>
<line x1="448.55" y1="683.14" x2="451.75" y2="683.14" stroke="#555" stroke-width="0.9"/>
<rect x="484.3" y="695.28" width="16.9" height="62.82" fill="#000" stroke="none" stroke-width="1"/>
<line x1="492.75" y1="693.14" x2="492.75" y2="695.28" stroke="#555" stroke-width="0.9"/>
<line x1="491.15" y1="693.14" x2="494.35" y2="693.14" stroke="#555" stroke-width="0.9"/>
<rect x="527.2" y="741.57" width="16.4" height="16.53" fill="#d9d9d9" stroke="#808080" stroke-width="1.2"/>
<line x1="535.4" y1="737.4" x2="535.4" y2="744.54" stroke="#555" stroke-width="0.9"/>
<line x1="533.8" y1="737.4" x2="537" y2="737.4" stroke="#555" stroke-width="0.9"/>
<line x1="533.8" y1="744.54" x2="537" y2="744.54" stroke="#555" stroke-width="0.9"/>
<polyline points="406.4,676.1 406.4,655.7 535.4,655.7 535.4,722.8" fill="none" stroke="#444" stroke-width="0.9"/>
<text x="468.2" y="656.8" font-size="9.4" fill="#000" text-anchor="middle">***</text>
<line x1="575.6" y1="631.6" x2="575.6" y2="759.8" stroke="#333" stroke-width="1.1"/>
<line x1="573.1" y1="759.4" x2="575.6" y2="759.4" stroke="#333" stroke-width="1"/>
<text x="569.2" y="761.5" font-size="6.1" fill="#222" text-anchor="end">0</text>
<line x1="573.1" y1="745.24" x2="575.6" y2="745.24" stroke="#333" stroke-width="1"/>
<text x="569.2" y="747.34" font-size="6.1" fill="#222" text-anchor="end">20</text>
<line x1="573.1" y1="731.09" x2="575.6" y2="731.09" stroke="#333" stroke-width="1"/>
<text x="569.2" y="733.19" font-size="6.1" fill="#222" text-anchor="end">40</text>
<line x1="573.1" y1="716.93" x2="575.6" y2="716.93" stroke="#333" stroke-width="1"/>
<text x="569.2" y="719.03" font-size="6.1" fill="#222" text-anchor="end">60</text>
<line x1="573.1" y1="702.78" x2="575.6" y2="702.78" stroke="#333" stroke-width="1"/>
<text x="569.2" y="704.88" font-size="6.1" fill="#222" text-anchor="end">80</text>
<line x1="573.1" y1="688.62" x2="575.6" y2="688.62" stroke="#333" stroke-width="1"/>
<text x="569.2" y="690.72" font-size="6.1" fill="#222" text-anchor="end">100</text>
<line x1="573.1" y1="674.47" x2="575.6" y2="674.47" stroke="#333" stroke-width="1"/>
<text x="569.2" y="676.57" font-size="6.1" fill="#222" text-anchor="end">120</text>
<line x1="573.1" y1="660.31" x2="575.6" y2="660.31" stroke="#333" stroke-width="1"/>
<text x="569.2" y="662.41" font-size="6.1" fill="#222" text-anchor="end">140</text>
<line x1="573.1" y1="646.16" x2="575.6" y2="646.16" stroke="#333" stroke-width="1"/>
<text x="569.2" y="648.26" font-size="6.1" fill="#222" text-anchor="end">160</text>
<line x1="573.1" y1="632" x2="575.6" y2="632" stroke="#333" stroke-width="1"/>
<text x="569.2" y="634.1" font-size="6.1" fill="#222" text-anchor="end">180</text>
<polyline points="587.6,759.4 587.6,689.12 603,689.12 603,759.4" fill="#fff" stroke="#222" stroke-width="1.0"/>
<line x1="588.1" y1="758.9" x2="602.5" y2="758.9" stroke="#333" stroke-width="1"/>
<rect x="626.5" y="689.33" width="16" height="70.07" fill="#000" stroke="none" stroke-width="1"/>
<line x1="634.5" y1="687.21" x2="634.5" y2="689.33" stroke="#555" stroke-width="0.9"/>
<line x1="632.9" y1="687.21" x2="636.1" y2="687.21" stroke="#555" stroke-width="0.9"/>
<rect x="665.8" y="682.25" width="15.9" height="77.15" fill="#000" stroke="none" stroke-width="1"/>
<line x1="673.75" y1="680.48" x2="673.75" y2="682.25" stroke="#555" stroke-width="0.9"/>
<line x1="672.15" y1="680.48" x2="675.35" y2="680.48" stroke="#555" stroke-width="0.9"/>
<text x="0" y="0" font-size="5.6" fill="#222" transform="translate(6.6,717.1) rotate(-90)" textLength="69.4" lengthAdjust="spacingAndGlyphs">SAM  level (% of control)</text>
<text x="0" y="0" font-size="6.1" fill="#222" transform="translate(363.5,725.9) rotate(-90)" textLength="67.8" lengthAdjust="spacingAndGlyphs">2HG  level (% of control)</text>
<text x="41.35" y="770.6" font-size="7.8" fill="#111" text-anchor="start" textLength="12.6" lengthAdjust="spacingAndGlyphs">CTR</text>
<text x="80.95" y="770.6" font-size="7.8" fill="#111" text-anchor="start" textLength="19.5" lengthAdjust="spacingAndGlyphs">10nM</text>
<text x="120.3" y="770.6" font-size="7.8" fill="#111" text-anchor="start" textLength="19.4" lengthAdjust="spacingAndGlyphs">25nM</text>
<text x="166.8" y="770.6" font-size="7.8" fill="#111" text-anchor="start" textLength="15.1" lengthAdjust="spacingAndGlyphs">1µM</text>
<line x1="79.5" y1="774.2" x2="143.3" y2="774.2" stroke="#444" stroke-width="0.9"/>
<text x="100.35" y="782.4" font-size="7.8" fill="#111" text-anchor="start" textLength="16.2" lengthAdjust="spacingAndGlyphs">2Cda</text>
<text x="159.1" y="782.4" font-size="7.8" fill="#111" text-anchor="start" textLength="31.3" lengthAdjust="spacingAndGlyphs">AGI-6780</text>
<text x="233.9" y="770.6" font-size="7.8" fill="#111" text-anchor="start" textLength="12.4" lengthAdjust="spacingAndGlyphs">CTR</text>
<text x="268.05" y="770.6" font-size="7.8" fill="#111" text-anchor="start" textLength="19.3" lengthAdjust="spacingAndGlyphs">10nM</text>
<text x="306.95" y="770.6" font-size="7.8" fill="#111" text-anchor="start" textLength="19.3" lengthAdjust="spacingAndGlyphs">25nM</text>
<line x1="264.3" y1="774.5" x2="327.8" y2="774.5" stroke="#444" stroke-width="0.9"/>
<text x="287.7" y="782.4" font-size="7.8" fill="#111" text-anchor="start" textLength="16.4" lengthAdjust="spacingAndGlyphs">2Cda</text>
<text x="402.75" y="770.6" font-size="7.8" fill="#111" text-anchor="start" textLength="12.3" lengthAdjust="spacingAndGlyphs">CTR</text>
<text x="441.8" y="770.6" font-size="7.8" fill="#111" text-anchor="start" textLength="19.6" lengthAdjust="spacingAndGlyphs">10nM</text>
<text x="481.7" y="770.6" font-size="7.8" fill="#111" text-anchor="start" textLength="19.6" lengthAdjust="spacingAndGlyphs">25nM</text>
<text x="527.9" y="770.6" font-size="7.8" fill="#111" text-anchor="start" textLength="15" lengthAdjust="spacingAndGlyphs">1µM</text>
<line x1="440.7" y1="774" x2="504.3" y2="774" stroke="#444" stroke-width="0.9"/>
<text x="461.65" y="782.4" font-size="7.8" fill="#111" text-anchor="start" textLength="16.1" lengthAdjust="spacingAndGlyphs">2Cda</text>
<text x="520.1" y="782.4" font-size="7.8" fill="#111" text-anchor="start" textLength="31.6" lengthAdjust="spacingAndGlyphs">AGI-6780</text>
<text x="589.8" y="770.6" font-size="7.8" fill="#111" text-anchor="start" textLength="12.2" lengthAdjust="spacingAndGlyphs">CTR</text>
<text x="623.95" y="770.6" font-size="7.8" fill="#111" text-anchor="start" textLength="19.3" lengthAdjust="spacingAndGlyphs">10nM</text>
<text x="662.55" y="770.6" font-size="7.8" fill="#111" text-anchor="start" textLength="19.3" lengthAdjust="spacingAndGlyphs">25nM</text>
<line x1="620" y1="774.6" x2="685" y2="774.6" stroke="#444" stroke-width="0.9"/>
<text x="643.75" y="782.4" font-size="7.8" fill="#111" text-anchor="start" textLength="16.1" lengthAdjust="spacingAndGlyphs">2Cda</text>
</svg></body></html>
